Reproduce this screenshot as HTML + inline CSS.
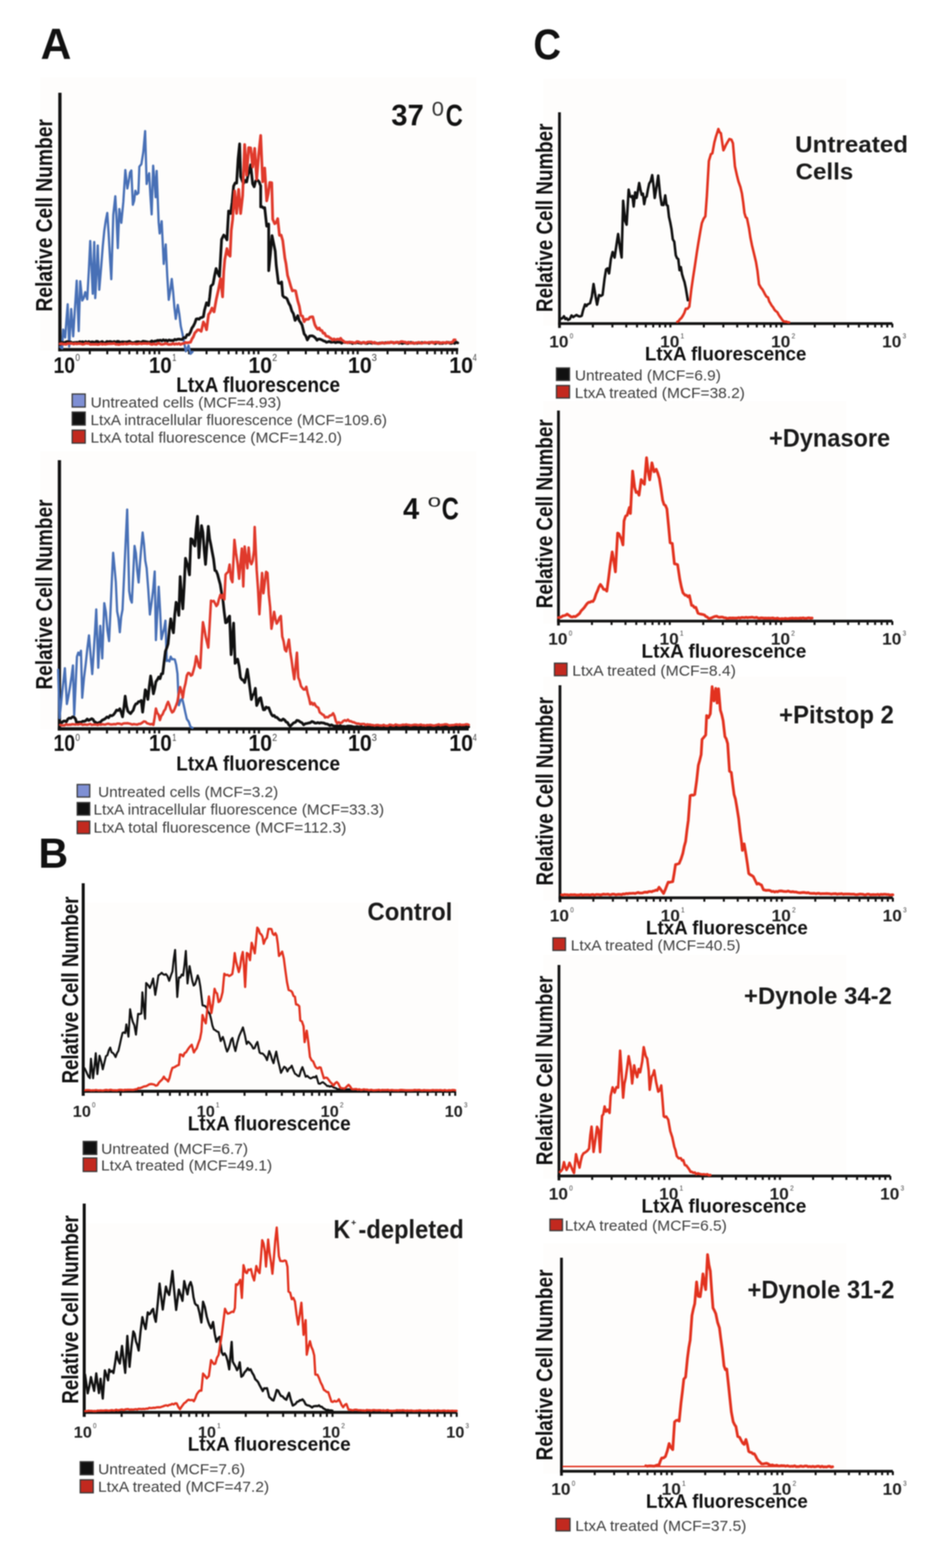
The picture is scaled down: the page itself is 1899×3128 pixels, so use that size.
<!DOCTYPE html>
<html><head><meta charset="utf-8"><title>Figure</title>
<style>html,body{margin:0;padding:0;background:#fff;} svg{display:block;} #wrap{filter:blur(0.8px);} text{font-family:"Liberation Sans", Arial, sans-serif;}</style>
</head><body>
<div id="wrap">
<svg width="1899" height="3128" viewBox="0 0 1899 3128">
<rect width="1899" height="3128" fill="#ffffff"/>
<g>
<rect x="80" y="154" width="870" height="546" fill="#fefdfc"/>
<rect x="80" y="900" width="870" height="555" fill="#fefdfc"/>
<rect x="168" y="1801" width="746" height="382" fill="#fefdfc"/>
<rect x="168" y="2440" width="746" height="385" fill="#fefdfc"/>
<rect x="1084" y="157" width="604" height="493" fill="#fefdfc"/>
<rect x="1084" y="800" width="604" height="444" fill="#fefdfc"/>
<rect x="1084" y="1350" width="604" height="446" fill="#fefdfc"/>
<rect x="1084" y="1905" width="604" height="446" fill="#fefdfc"/>
<rect x="1084" y="2480" width="604" height="460" fill="#fefdfc"/>
<text x="80.9" y="117" font-size="87.1" font-weight="bold" fill="#111" textLength="61.4" lengthAdjust="spacingAndGlyphs">A</text>
<text x="76.7" y="1731" font-size="82.9" font-weight="bold" fill="#111" textLength="59.2" lengthAdjust="spacingAndGlyphs">B</text>
<text x="1063.9" y="118" font-size="85.7" font-weight="bold" fill="#111" textLength="55.1" lengthAdjust="spacingAndGlyphs">C</text>
<line x1="119.5" y1="185" x2="119.5" y2="700.75" stroke="#111" stroke-width="6.5"/>
<line x1="116.25" y1="697.5" x2="914" y2="697.5" stroke="#111" stroke-width="6.5"/>
<path d="M179.1 697.5 V706.8 M214 697.5 V706.8 M238.7 697.5 V706.8 M257.9 697.5 V706.8 M273.6 697.5 V706.8 M286.8 697.5 V706.8 M298.3 697.5 V706.8 M308.4 697.5 V706.8 M377.1 697.5 V706.8 M412 697.5 V706.8 M436.7 697.5 V706.8 M455.9 697.5 V706.8 M471.6 697.5 V706.8 M484.8 697.5 V706.8 M496.3 697.5 V706.8 M506.4 697.5 V706.8 M317.5 697.5 V706.8 M575.1 697.5 V706.8 M610 697.5 V706.8 M634.7 697.5 V706.8 M653.9 697.5 V706.8 M669.6 697.5 V706.8 M682.8 697.5 V706.8 M694.3 697.5 V706.8 M704.4 697.5 V706.8 M515.5 697.5 V706.8 M773.1 697.5 V706.8 M808 697.5 V706.8 M832.7 697.5 V706.8 M851.9 697.5 V706.8 M867.6 697.5 V706.8 M880.8 697.5 V706.8 M892.3 697.5 V706.8 M902.4 697.5 V706.8 M713.5 697.5 V706.8 M911.5 697.5 V706.8" stroke="#111" stroke-width="4" fill="none"/>
<path d="M120 692 L124 694.9 L126 657.4 L130 673.3 L132.5 638.7 L135 607.1 L138 691.3 L142 616.4 L146 671.1 L149.5 615.1 L153 560 L157 660.6 L160 561 L164 599.4 L167 594.8 L170 582.8 L174 597 L177 543.2 L180 480.8 L182.5 531.7 L185 586.1 L188 482.8 L190 594.7 L192.5 547.3 L195 489.7 L198 578.1 L202 530.2 L205 491.4 L208 460.5 L211 439.7 L214 424.7 L216.7 465.9 L219.3 512.9 L222 557 L226 428.2 L230 391.4 L232.5 437.6 L235 495 L238 416.9 L242 444.5 L246 402.9 L250 339.2 L254 376.1 L256.7 362.2 L259.3 344.2 L262 340.1 L265 408.6 L267.5 400.9 L270 380.4 L273 387.6 L276 385 L278 332.4 L282 327.5 L285.8 303.6 L289.5 261.5 L292.5 367.1 L295 354.5 L297.5 345.6 L300 389.8 L302.5 427.8 L305.5 330.5 L308 358.9 L310.5 393.6 L312.5 341.1 L316.5 443.9 L318.5 465.8 L322.5 441.2 L326.6 526.6 L330.6 487.4 L333.6 550 L336.6 598.2 L339.6 579.6 L342.6 556.5 L345.3 581.4 L347.9 613.6 L350.6 636.3 L354.6 608.2 L357.6 626 L360.6 650.5 L363.6 664.3 L366.7 679.9 L370.7 700.9 L373.4 695.8 L376 689.3 L380 705.8 L384 702" fill="none" stroke="#4870b6" stroke-width="4.5" stroke-linejoin="round" stroke-linecap="round"/>
<path d="M120 683 L123 682.9 L126 683.5 L129 683.5 L132 681.8 L135 681.4 L138 682.5 L141 682.2 L144 683.9 L147 683.5 L150 683.2 L153 683 L156 683.3 L159 681.6 L162 682.6 L165 681.7 L168 684 L171 681.3 L174 683.7 L177 681.3 L180 683.3 L183 682.1 L186 682.3 L189 683.7 L192 681 L195 681.2 L198 683.9 L201 682.6 L204 681.2 L207 684.1 L210 683.9 L213 681.2 L216 682.2 L219 681.3 L222 681.8 L225 682.8 L228 681.3 L231 683 L234 680.9 L237 681.3 L240 683.4 L243 682 L246 682 L249 682.6 L252 682.2 L255 681.9 L258 680.7 L261 683 L264 683.7 L267 683.7 L270 682.7 L273 681.7 L276 681.7 L279 682.7 L282 682.7 L285 680.8 L288 681.2 L291 681.6 L294 682.1 L297 683 L300 682 L302.9 680 L305.7 682.3 L308.6 680.5 L311.4 680.4 L314.3 678.9 L317.1 679.2 L320 678.6 L322.9 680.1 L325.7 677.8 L328.6 679.6 L331.4 678.4 L334.3 680.4 L337.1 678.2 L340 679.2 L342.9 679 L345.7 679.6 L348.6 677 L351.4 678.1 L354.3 676.7 L357.1 676.6 L360 676.9 L363.3 677.2 L366.7 673.6 L370 674 L373.3 667.5 L376.7 668.1 L380 662.3 L382.9 654.3 L385.7 650.5 L388.6 644.6 L391.4 636.5 L394.2 635.8 L397 636.8 L399.9 633.9 L402.8 633.3 L405.7 631.7 L407.8 619.3 L412 604 L416 609.4 L418.3 592.5 L420.6 571 L425 566.6 L428 550.1 L431 535.7 L434.4 544.7 L437.8 551.4 L442 477.8 L446.3 468.9 L449.5 472.5 L452.7 478.5 L456 420.9 L460 425.8 L463 403.3 L466 371.3 L469 365.1 L472 365.3 L475 316.7 L478 287 L480 352.2 L484 362.8 L486.7 364.9 L489.3 359.9 L492 363 L494.7 349.1 L497.3 342 L500 328.9 L504 366.8 L507 372.5 L510 360.9 L513.3 359 L516.7 362.4 L520 370.8 L520 412.8 L522.7 412.3 L525.3 414.9 L528 414.2 L532 451.2 L536 447 L536 539.9 L539.3 507.2 L542.6 469.9 L545.8 485.5 L549 501.1 L551 529.2 L555.4 564.9 L558.6 565.4 L561.8 562.5 L564 589.8 L566.8 593 L569.7 593.6 L572.5 596 L575.8 604.5 L579 610 L582.1 620.4 L585.3 625.9 L588.6 639.2 L591.3 635.4 L594 629.7 L596.8 639.5 L599.7 643.5 L602.5 648.3 L606.7 666 L609.9 670 L613 678.1 L617.4 670.5 L620.3 669.9 L623.1 669.9 L626 671.4 L629.2 674.2 L632.4 678.7 L635 676.6 L637.7 676.4 L640.4 677.3 L643 678.7 L645.7 680.1 L648.4 680.8 L651.1 682.9 L653.8 682.1 L656.9 681.1 L660 682.7 L663 682.6 L666.1 681.9 L669.2 683.5 L672.3 682.6 L675.4 682.4 L678.4 682.8 L681.5 684.8 L684.6 682 L687.7 683.2 L690.8 683 L693.8 682.9 L696.9 683.7 L700 683.2 L703 685.3 L706 684 L709 684.6 L712 683 L715 683.9 L718 684.3 L721 685 L724 683.2 L727 683.9 L730 685.1 L733 685 L736 683.2 L739 684.1 L742 684.8 L745 683.7 L748 684.5 L751 684.5 L754 685.4 L757 684.2 L760 684.5 L763 683.6 L766 684.7 L769 683.5 L772 684 L775 683.6 L778 683.4 L781 682.9 L784 683.2 L787 684.1 L790 683.3 L793 682.6 L796 684.9 L799 683.4 L802 685.3 L805 684.3 L808 683.7 L811 685.1 L814 685.2 L817 683.5 L820 682.9 L823 684.4 L826 685 L829 684.3 L832 684.9 L835 683.7 L838 684.4 L841 683.3 L844 683.7 L847 683.6 L850 683.7 L853 683.7 L856 684.9 L859 683 L862 683.1 L865 683.3 L868 685.4 L871 684.1 L874 682.7 L877 685 L880 685.1 L883 685 L886 683.6 L889 684.7 L892 683.4 L895 682.9 L898 685.1 L901 685 L904 683.1 L907 685.1 L910 682.6 L913 684" fill="none" stroke="#111111" stroke-width="5.5" stroke-linejoin="round" stroke-linecap="round"/>
<path d="M120 686 L123 685.4 L126 686.5 L129 686.5 L132 686.9 L135 685.2 L138 685.3 L141 685.1 L144 685.3 L147 686.6 L150 685 L153 686.1 L156 685.3 L159 685.5 L162 685.8 L165 686.9 L168 686.3 L171 684.7 L174 685.4 L177 685.1 L180 687 L183 686.8 L186 686.8 L189 686.8 L192 686.6 L195 687.2 L198 686.8 L201 685.4 L204 686.9 L207 686 L210 686.7 L213 686.2 L216 685.8 L219 685.6 L222 685.8 L225 685.5 L228 685 L231 686.8 L234 686.8 L237 687.3 L240 686.5 L243 686.1 L246 686.6 L249 685.1 L252 686.5 L255 685.9 L258 685.2 L261 685.2 L264 686.1 L267 685.4 L270 685.9 L273 686.3 L276 685.7 L279 685 L282 686 L285 685.3 L288 685.3 L291 685.2 L294 685.7 L297 684.9 L300 686.4 L303 687.2 L306 685.7 L309 686.6 L312 687.1 L315 684.8 L318 685.1 L321 686.8 L324 686.9 L327 686.4 L330 685.1 L333 685.8 L336 687 L339 687 L342 686.8 L345 685.2 L348 686.9 L351 685.7 L354 686.6 L357 685.1 L360 687.2 L363.3 685.6 L366.7 685.3 L370 683.1 L373.3 683.9 L376.7 683.3 L380 682.8 L382.9 676.1 L385.7 671.9 L388.6 664.2 L391.4 661.3 L394.2 657.9 L397 658 L401.4 661 L405.7 642.3 L408.9 648 L412 657.8 L416 627.4 L419.4 622.8 L422.8 614.6 L427 622.2 L431.3 597.7 L435.6 578.4 L440 555.8 L444 592.3 L446.3 541.8 L448.4 517.9 L452.7 495.9 L455.9 508.1 L459 511 L461.3 459.6 L464 438.3 L468 380.7 L472 425.7 L476 377.7 L480 426 L484 390.5 L488 288.3 L492 349.6 L496 294.6 L500 294.9 L504 333.1 L508 296 L512 357.9 L516 307.7 L520 270.2 L524 362.6 L528 335.2 L532 400.8 L535 386.2 L538 364 L542 364.4 L544 437.3 L548 446.3 L551 444.1 L554 436.2 L557.5 469.5 L560.8 469 L564 480 L568.2 514.6 L570.4 525.5 L573.6 549.4 L576.8 559.8 L580 571.1 L583.2 580.3 L586.4 579.4 L589.6 580.1 L594 600.5 L597.1 611.1 L600.3 629.4 L603.5 630.6 L606.7 641.8 L609.6 637.1 L612.4 636.9 L615.3 636.8 L618.2 632.9 L621 632 L623.9 632.1 L628 647.6 L630.9 653.1 L633.8 656.7 L636.7 654.3 L639.4 659.1 L642 659.2 L644.7 664.8 L647.4 664.5 L650 669.9 L652.7 670.9 L655.4 671.7 L658 674 L660.7 675.5 L663.4 678.4 L666.1 676.1 L668.8 677.9 L671.5 677 L674.1 676.4 L676.8 677.7 L679.5 674.8 L682.1 678.5 L684.8 679.9 L687.4 682.4 L690 682.6 L693.3 683.9 L696.7 682.3 L700 682.7 L702.9 683 L705.9 683.8 L708.8 684 L711.8 681.6 L714.7 681.8 L717.6 683.1 L720.6 684.1 L723.5 683.3 L726.5 682.7 L729.4 684.8 L732.4 682.8 L735.3 682.3 L738.2 682.3 L741.2 682.3 L744.1 684.5 L747.1 682.7 L750 684.6 L752.9 685 L755.9 685.4 L758.8 684.8 L761.8 683.5 L764.7 684.1 L767.6 684.7 L770.6 684.3 L773.5 682.9 L776.5 684.3 L779.4 682.2 L782.4 682.8 L785.3 684.8 L788.2 683.1 L791.2 682.4 L794.1 684 L797.1 682.9 L800 681.4 L802.9 681.6 L805.9 682.4 L808.8 682.6 L811.8 684.6 L814.7 682.5 L817.6 684.4 L820.6 684.5 L823.5 683.2 L826.5 685 L829.4 684.4 L832.4 683.6 L835.3 683 L838.2 683.6 L841.2 685 L844.1 684 L847.1 683 L850 683.6 L852.9 683.9 L855.9 682.9 L858.8 684 L861.8 682.3 L864.7 684.7 L867.6 682.7 L870.6 682.4 L873.5 683.8 L876.5 682.9 L879.4 684.6 L882.4 683.3 L885.3 683.4 L888.2 684.3 L891.2 682.3 L894.1 683.9 L897.1 683.5 L900 682.8 L902.7 682.9 L905.3 677.9 L908 678" fill="none" stroke="#e03a2c" stroke-width="5.5" stroke-linejoin="round" stroke-linecap="round"/>
<text x="780.5" y="250" font-size="58.6" font-weight="bold" fill="#111" textLength="64.9" lengthAdjust="spacingAndGlyphs">37</text>
<text x="861.2" y="231" font-size="41.4" font-weight="normal" fill="#333" textLength="24.3" lengthAdjust="spacingAndGlyphs">0</text>
<text x="889.1" y="251" font-size="61.4" font-weight="bold" fill="#111" textLength="34.2" lengthAdjust="spacingAndGlyphs">C</text>
<text transform="translate(104 619) rotate(-90)" x="-2.5" y="0" font-size="47.1" font-weight="bold" fill="#111" textLength="384" lengthAdjust="spacingAndGlyphs">Relative Cell Number</text>
<text x="106.7" y="744" font-size="44.3" font-weight="bold" fill="#111" textLength="43" lengthAdjust="spacingAndGlyphs">10</text>
<text x="150.3" y="720" font-size="20" font-weight="normal" fill="#444" textLength="9.3" lengthAdjust="spacingAndGlyphs">0</text>
<text x="297" y="744" font-size="44.3" font-weight="bold" fill="#111" textLength="45.7" lengthAdjust="spacingAndGlyphs">10</text>
<text x="343.4" y="720" font-size="20" font-weight="normal" fill="#444" textLength="8.3" lengthAdjust="spacingAndGlyphs">1</text>
<text x="495.4" y="744" font-size="44.3" font-weight="bold" fill="#111" textLength="47.4" lengthAdjust="spacingAndGlyphs">10</text>
<text x="543.1" y="720" font-size="20" font-weight="normal" fill="#444" textLength="9.8" lengthAdjust="spacingAndGlyphs">2</text>
<text x="693.9" y="744" font-size="44.3" font-weight="bold" fill="#111" textLength="47.9" lengthAdjust="spacingAndGlyphs">10</text>
<text x="741.2" y="720" font-size="20" font-weight="normal" fill="#444" textLength="10.5" lengthAdjust="spacingAndGlyphs">3</text>
<text x="895.9" y="744" font-size="44.3" font-weight="bold" fill="#111" textLength="47.9" lengthAdjust="spacingAndGlyphs">10</text>
<text x="942.7" y="720" font-size="20" font-weight="normal" fill="#444" textLength="8.3" lengthAdjust="spacingAndGlyphs">4</text>
<text x="351.5" y="782" font-size="42.9" font-weight="bold" fill="#111" textLength="326.9" lengthAdjust="spacingAndGlyphs">LtxA fluorescence</text>
<rect x="144" y="786" width="26" height="26" fill="#7e8fd4" stroke="#3a3a3a" stroke-width="2.5"/>
<rect x="144" y="822" width="26" height="26" fill="#111111" stroke="#3a3a3a" stroke-width="2.5"/>
<rect x="144" y="858" width="26" height="26" fill="#c2291f" stroke="#3a3a3a" stroke-width="2.5"/>
<text x="180.7" y="813" font-size="30" font-weight="normal" fill="#3e3e3e" textLength="380.3" lengthAdjust="spacingAndGlyphs">Untreated cells (MCF=4.93)</text>
<text x="180.6" y="848" font-size="30" font-weight="normal" fill="#3e3e3e" textLength="591.3" lengthAdjust="spacingAndGlyphs">LtxA intracellular fluorescence (MCF=109.6)</text>
<text x="180.5" y="883" font-size="30" font-weight="normal" fill="#3e3e3e" textLength="501.4" lengthAdjust="spacingAndGlyphs">LtxA total fluorescence (MCF=142.0)</text>
<line x1="118.5" y1="918" x2="118.5" y2="1457.25" stroke="#111" stroke-width="6.5"/>
<line x1="115.25" y1="1454" x2="935" y2="1454" stroke="#111" stroke-width="6.5"/>
<path d="M178.4 1454 V1463.2 M213.4 1454 V1463.2 M238.3 1454 V1463.2 M257.6 1454 V1463.2 M273.4 1454 V1463.2 M286.7 1454 V1463.2 M298.2 1454 V1463.2 M308.4 1454 V1463.2 M377.4 1454 V1463.2 M412.4 1454 V1463.2 M437.3 1454 V1463.2 M456.6 1454 V1463.2 M472.4 1454 V1463.2 M485.7 1454 V1463.2 M497.2 1454 V1463.2 M507.4 1454 V1463.2 M317.5 1454 V1463.2 M576.4 1454 V1463.2 M611.4 1454 V1463.2 M636.3 1454 V1463.2 M655.6 1454 V1463.2 M671.4 1454 V1463.2 M684.7 1454 V1463.2 M696.2 1454 V1463.2 M706.4 1454 V1463.2 M516.5 1454 V1463.2 M775.4 1454 V1463.2 M810.4 1454 V1463.2 M835.3 1454 V1463.2 M854.6 1454 V1463.2 M870.4 1454 V1463.2 M883.7 1454 V1463.2 M895.2 1454 V1463.2 M905.4 1454 V1463.2 M715.5 1454 V1463.2 M914.5 1454 V1463.2" stroke="#111" stroke-width="4" fill="none"/>
<path d="M116 1336 L118.7 1432.8 L121.3 1408.5 L124 1381.1 L126.7 1357.6 L129.4 1332.9 L133.4 1404.6 L136.7 1387.5 L140 1367.8 L142.8 1348.9 L145.5 1327.4 L148 1426.3 L150.8 1367.9 L153.5 1309.9 L156.2 1301.8 L158.8 1306.8 L161.5 1298.1 L164 1392 L167.5 1352.7 L171 1324.6 L174.2 1293.9 L177.5 1267.4 L180.8 1307.2 L184 1344.7 L186.7 1304.4 L189.3 1263.4 L192 1215.7 L196 1332.1 L200 1248.4 L204 1313.5 L208 1203.2 L211.2 1221.1 L214.4 1257.8 L217.6 1279 L220.3 1221.3 L223 1159.6 L225.7 1102.8 L228.3 1130.5 L231 1160.6 L233.7 1219.7 L236.3 1233.2 L239 1261.3 L241.7 1230.4 L244.4 1216.1 L247.5 1149.6 L250.6 1082 L253.7 1016.4 L257.7 1179.1 L260.4 1195.6 L263 1202.1 L265.7 1145.2 L268.4 1089.1 L271.1 1103.7 L273.8 1138.5 L276.5 1162 L279.2 1124 L281.8 1092.1 L284.5 1062.2 L287.2 1085.2 L289.8 1118.4 L292.5 1133.4 L295.8 1176.6 L299 1225.9 L302.2 1203.5 L305.4 1177.1 L308.6 1139.9 L311 1276.9 L313.8 1222.6 L316.6 1170.4 L319.3 1217 L322 1275.2 L324.7 1264 L327.3 1254.1 L330 1238.1 L332.6 1318.7 L335.3 1317 L337.9 1319.4 L340.6 1309.9 L343.3 1315.2 L346 1314.9 L348.7 1315.6 L351.4 1326 L354 1344 L356.7 1406.9 L360 1397.6 L363.4 1393.4 L366.5 1406.5 L369.6 1421.1 L372.7 1434.4 L376.4 1439.6 L380 1449.8 L384 1452" fill="none" stroke="#4870b6" stroke-width="4.5" stroke-linejoin="round" stroke-linecap="round"/>
<path d="M120 1440 L123.1 1441.6 L126.3 1438.7 L129.4 1438.3 L132.3 1439.9 L135.1 1434.7 L138 1432.4 L141.3 1433 L144.7 1430 L148 1430.8 L150.8 1434.7 L153.5 1444.1 L156.4 1440.8 L159.2 1440.7 L162.1 1440.7 L165 1438.7 L168 1439.1 L171 1437.7 L174 1434.4 L177 1437.2 L180 1435.5 L183 1433.7 L185.7 1435.3 L188.3 1439.9 L190.9 1440.9 L193.6 1444 L196.9 1441.5 L200.3 1440.3 L203.7 1436.8 L207 1435.3 L210.2 1433.4 L213.4 1430.2 L216.6 1431.8 L219.8 1427.2 L223 1427.9 L226.2 1426.1 L229.4 1421.9 L232.6 1416.5 L235.8 1417.5 L239 1414 L241.7 1420.9 L244.4 1430 L247.1 1412.2 L249.7 1388.8 L252.3 1407.9 L255 1418.5 L257.7 1421.3 L260.4 1423.5 L263 1420.1 L265.7 1416.9 L268.4 1408.6 L271 1404.2 L273.7 1403.5 L276.4 1399.7 L279.1 1399.6 L281.8 1397.3 L284.5 1420.7 L287.1 1399.5 L289.8 1375.9 L292.4 1380.8 L295 1395.2 L297.8 1369.3 L300.5 1348.4 L303.2 1364.2 L306 1384.1 L308.5 1373.9 L311 1359.8 L313.8 1356 L316.6 1350.6 L319.3 1353.9 L321.9 1344.2 L324.6 1344 L327.3 1320.9 L330 1299.3 L332.6 1292.8 L335.3 1284.3 L338 1255.6 L340.6 1234.4 L343.3 1250.8 L346 1262.3 L348.6 1226.3 L351.3 1201.4 L354 1208.3 L356.7 1227.6 L359.4 1150.3 L362 1185.9 L364.7 1214.5 L367.4 1169 L370 1113.7 L372.7 1122.8 L375.3 1132.4 L378 1146.8 L380.7 1074.7 L383.4 1075.9 L386.1 1085.1 L388.8 1089.1 L391.4 1054 L394 1030 L396.8 1112.6 L399.4 1076.4 L402 1048.5 L404.7 1061.7 L407.3 1096.5 L410 1125.9 L412.8 1087.1 L415.5 1049.9 L418.1 1074.6 L420.8 1087.4 L423.4 1101.7 L426 1115.2 L428.7 1138 L431.3 1139.2 L434 1145.8 L436.7 1156.2 L439.3 1165.7 L442 1182.8 L444.7 1197 L447.3 1221.3 L450 1242.4 L452.7 1241.3 L455.3 1232.9 L458 1229.1 L461 1305.9 L463.5 1275.9 L466 1242.9 L469 1323.3 L471.5 1318.4 L474 1314.9 L476.9 1328.5 L479.7 1351.5 L482.5 1355.8 L485.2 1356.8 L488 1361.7 L490.7 1349.5 L493.4 1335.3 L496.1 1354 L498.7 1374.5 L501.4 1395.5 L504.1 1386.9 L506.7 1384 L509.4 1373.1 L512 1407.4 L514.7 1401.5 L517.3 1393.3 L520 1391.8 L522.8 1405.8 L525.5 1416 L528.2 1415.8 L530.8 1410.5 L533.5 1412.1 L536.1 1411.7 L538.8 1419.2 L541.4 1425 L544 1428.2 L546.8 1427.2 L549.5 1430.7 L552.2 1430.9 L555 1433.8 L558.2 1436.6 L561.5 1437 L564.8 1434.4 L568 1436.5 L570.8 1440.3 L573.5 1441.4 L576.2 1446.1 L579 1448.6 L582.3 1445.4 L585.6 1442.1 L589 1441 L592.3 1437.1 L595.6 1437.8 L599 1440.2 L602.4 1441.9 L605.7 1446 L609 1443.8 L612.4 1443.1 L615.7 1442.3 L619 1441.7 L622.1 1439.3 L625.1 1440.4 L628.2 1442.4 L631.2 1442.4 L634.3 1441.5 L637.3 1442.7 L640.4 1441.6 L643.4 1442.1 L646.3 1442.4 L649.3 1444 L652.2 1444.3 L655.2 1445.6 L658.1 1447.4 L661.1 1446 L664 1447.5 L667 1448.6 L670 1448.3 L673 1448.3 L675.9 1448.8 L678.9 1447.7 L681.9 1449.3 L684.9 1449 L687.8 1449.3 L690.8 1449.4 L693.8 1448.4 L696.8 1448.4 L699.8 1448.7 L702.7 1449.3 L705.7 1450.1 L708.7 1450.2 L711.7 1449.5 L714.6 1450 L717.6 1450.3 L720.6 1449.7 L723.6 1450.8 L726.6 1450.7 L729.7 1450.4 L732.7 1450.6 L735.7 1450.5 L738.7 1450.2 L741.7 1449.7 L744.8 1449.7 L747.8 1449.6 L750.8 1449.3 L753.8 1450.7 L756.8 1449.7 L759.9 1449.2 L762.9 1449.7 L765.9 1449.4 L768.9 1449.9 L771.9 1449.7 L775 1449.5 L778 1450 L781 1449.9 L784 1449.8 L787 1450.5 L790.1 1449.7 L793.1 1450.1 L796.1 1450.6 L799.1 1450.7 L802.1 1449.8 L805.2 1449.3 L808.2 1450.7 L811.2 1450 L814.2 1449.5 L817.2 1449.4 L820.3 1449.6 L823.3 1449.7 L826.3 1449.4 L829.3 1449.3 L832.3 1450.8 L835.3 1450.5 L838.4 1449.4 L841.4 1450 L844.4 1450.5 L847.4 1450 L850.4 1449.3 L853.5 1449.7 L856.5 1449.8 L859.5 1450.7 L862.5 1450.1 L865.5 1449.9 L868.6 1450.2 L871.6 1449.3 L874.6 1450.3 L877.6 1450.5 L880.6 1450.3 L883.7 1449.8 L886.7 1449.7 L889.7 1449.2 L892.7 1449.3 L895.7 1449.4 L898.8 1449.9 L901.8 1450.4 L904.8 1449.5 L907.8 1450 L910.8 1450.2 L913.9 1450.2 L916.9 1449.2 L919.9 1450.7 L922.9 1450.1 L925.9 1449.7 L929 1449.6 L932 1450.3 L935 1450" fill="none" stroke="#111111" stroke-width="5.5" stroke-linejoin="round" stroke-linecap="round"/>
<path d="M120 1446 L123 1447.1 L126 1447.1 L129 1446.9 L132 1444.8 L135 1446.1 L138 1445.6 L141 1445.8 L144 1444.7 L147 1444.9 L150 1445.5 L153 1444.9 L156 1445.5 L159 1444.3 L162 1444.4 L165 1446.1 L168 1445.2 L171 1445.4 L174 1446 L177 1445 L180 1444.1 L183 1446.1 L186 1445.5 L189 1445.6 L192 1445.5 L195 1446.4 L198 1444.7 L201 1445.8 L204 1444.7 L207 1445.2 L210 1445.4 L212.9 1444.4 L215.9 1443.7 L218.9 1444.7 L221.8 1445.3 L224.8 1444.9 L227.8 1444.5 L230.7 1445 L233.7 1443.6 L236.7 1443.5 L239.6 1443.9 L242.6 1445.3 L245.6 1443.4 L248.5 1443.1 L251.5 1443 L254.5 1442.7 L257.4 1443.4 L260.4 1444.2 L263.8 1445.4 L267.1 1444.5 L270.4 1445.1 L273.8 1445.5 L277.1 1443.9 L280.4 1443.9 L283.7 1441.7 L287 1439.1 L290.2 1439.6 L293.3 1442.9 L296.5 1443.7 L299.7 1445 L302.8 1444.3 L306 1446.1 L308.5 1431.4 L311 1413.5 L313.7 1422.5 L316.3 1425.7 L319 1436.5 L321.7 1428 L324.3 1425.1 L327 1418.5 L329.8 1414.8 L332.5 1406.2 L335.3 1400.1 L338 1406.9 L340.6 1415.6 L343.3 1421.2 L346 1419.4 L348.6 1413.8 L351.3 1407.1 L354 1399.5 L356.7 1383.8 L359.4 1370.7 L362 1379.4 L364.7 1391.8 L367.4 1373.6 L370 1363.3 L372.7 1347.5 L375.4 1342.5 L378 1342.9 L380.7 1347.9 L383.4 1346.2 L386.1 1336.9 L388.7 1326.9 L391.4 1309.1 L394.1 1317.9 L396.8 1329.6 L399.5 1332.5 L402.1 1283.2 L404.8 1241.3 L407.5 1254.3 L410.1 1269.1 L412.8 1280.8 L415.5 1291.9 L418.2 1245.6 L420.9 1198.2 L423.6 1199.8 L426.2 1198.7 L428.9 1203.4 L431.6 1208.9 L434.3 1205.4 L436.9 1194.7 L439.6 1186.6 L442.3 1192.9 L444.9 1186.3 L447.6 1195.7 L450 1146.1 L452.7 1143 L455.3 1140.6 L458 1126.2 L460.8 1154.5 L463.6 1161.4 L467.6 1076.9 L470.7 1102.5 L473.9 1124.1 L477 1154.6 L479.7 1124 L482.4 1094.3 L485.3 1169.9 L488 1090.3 L490.7 1111.9 L493.4 1133.7 L496 1092.3 L498.7 1118.9 L501.4 1125.5 L504 1118.9 L506.7 1098.2 L508 1051.2 L512 1136.7 L514.7 1174.9 L517.4 1225.4 L520.1 1181.4 L522.8 1143 L525.5 1183.5 L528.1 1162.5 L530.8 1140.8 L533.5 1143 L536.2 1185.7 L538.8 1210.2 L541.5 1254.3 L544.1 1239.6 L546.8 1220.6 L549.4 1234.6 L552 1244 L554.7 1239.6 L557.5 1232.2 L560.2 1228.9 L563 1269.8 L565.7 1279.2 L568.3 1295.9 L571 1299.4 L573.6 1287.7 L576.3 1275.9 L579 1300.1 L581.6 1316.7 L584.3 1337.4 L587 1355 L589.6 1329.5 L592.3 1301.9 L595 1351.6 L597.7 1358.2 L600.4 1369 L603 1372.3 L605.7 1375.5 L608.4 1375.4 L611 1370.1 L613.7 1383.3 L616.3 1392.3 L619 1404.8 L621.7 1401.6 L624.4 1405.9 L627 1402.8 L629.7 1408 L632.4 1410.5 L635 1411.9 L637.7 1420.9 L640.4 1422.9 L643 1425.3 L645.7 1426.3 L648.4 1431.5 L651 1430.2 L654.4 1431.1 L657.8 1427.5 L661.1 1426.9 L664.5 1423 L667.2 1428.3 L669.8 1438.1 L672.5 1443.1 L675.6 1440.7 L678.6 1442.6 L681.7 1441.7 L684.8 1438.2 L687.9 1436.8 L690.9 1438.2 L694 1435.6 L697 1438.8 L699.9 1438.7 L702.9 1440.4 L705.8 1440.8 L708.8 1442.4 L711.7 1443.4 L714.7 1443.5 L717.6 1444.4 L720.6 1444.5 L723.6 1444.2 L726.6 1444.2 L729.5 1446.5 L732.5 1444.9 L735.5 1445.7 L738.5 1445.6 L741.4 1446.5 L744.4 1446.5 L747.4 1447.5 L750.4 1446.4 L753.4 1446.2 L756.3 1446.9 L759.3 1447.2 L762.3 1447.6 L765.3 1446.1 L768.2 1447.5 L771.2 1447.7 L774.2 1447.7 L777.2 1445.6 L780.2 1446.2 L783.1 1447.2 L786.1 1447.3 L789.1 1445.3 L792.1 1446.2 L795 1447 L798 1447.1 L801 1446.5 L804 1445.7 L807 1446.2 L809.9 1445.3 L812.9 1445.9 L815.9 1446.2 L818.9 1447.2 L821.8 1446.6 L824.8 1446.1 L827.8 1445.7 L830.8 1445.9 L833.8 1446.8 L836.7 1446.2 L839.7 1445.5 L842.7 1447.1 L845.7 1446.5 L848.6 1447.5 L851.6 1446.4 L854.6 1446.6 L857.6 1446.1 L860.6 1446.5 L863.5 1447.3 L866.5 1447.4 L869.5 1446.6 L872.5 1446 L875.4 1445.1 L878.4 1447 L881.4 1445.9 L884.4 1445.9 L887.4 1445 L890.3 1445 L893.3 1445.9 L896.3 1447.3 L899.3 1446.7 L902.2 1446.6 L905.2 1446.5 L908.2 1445.5 L911.2 1445.2 L914.2 1446.3 L917.1 1444.9 L920.1 1446.3 L923.1 1446.1 L926.1 1446.1 L929 1445 L932 1444.9 L935 1446" fill="none" stroke="#e03a2c" stroke-width="5" stroke-linejoin="round" stroke-linecap="round"/>
<text x="804.1" y="1035" font-size="60" font-weight="bold" fill="#111" textLength="32.2" lengthAdjust="spacingAndGlyphs">4</text>
<text x="853.1" y="1011" font-size="35.7" font-weight="normal" fill="#222" textLength="26.9" lengthAdjust="spacingAndGlyphs">o</text>
<text x="881.1" y="1036" font-size="62.9" font-weight="bold" fill="#111" textLength="34.2" lengthAdjust="spacingAndGlyphs">C</text>
<text transform="translate(104 1373) rotate(-90)" x="-2.5" y="0" font-size="47.1" font-weight="bold" fill="#111" textLength="379" lengthAdjust="spacingAndGlyphs">Relative Cell Number</text>
<text x="106.7" y="1498" font-size="45.7" font-weight="bold" fill="#111" textLength="43" lengthAdjust="spacingAndGlyphs">10</text>
<text x="150.3" y="1478" font-size="20" font-weight="normal" fill="#444" textLength="9.3" lengthAdjust="spacingAndGlyphs">0</text>
<text x="297" y="1498" font-size="45.7" font-weight="bold" fill="#111" textLength="45.7" lengthAdjust="spacingAndGlyphs">10</text>
<text x="343.4" y="1478" font-size="20" font-weight="normal" fill="#444" textLength="8.3" lengthAdjust="spacingAndGlyphs">1</text>
<text x="495.4" y="1498" font-size="45.7" font-weight="bold" fill="#111" textLength="47.4" lengthAdjust="spacingAndGlyphs">10</text>
<text x="543.1" y="1478" font-size="20" font-weight="normal" fill="#444" textLength="9.8" lengthAdjust="spacingAndGlyphs">2</text>
<text x="693.9" y="1498" font-size="45.7" font-weight="bold" fill="#111" textLength="47.9" lengthAdjust="spacingAndGlyphs">10</text>
<text x="741.2" y="1478" font-size="20" font-weight="normal" fill="#444" textLength="10.5" lengthAdjust="spacingAndGlyphs">3</text>
<text x="895.9" y="1498" font-size="45.7" font-weight="bold" fill="#111" textLength="47.9" lengthAdjust="spacingAndGlyphs">10</text>
<text x="942.7" y="1478" font-size="20" font-weight="normal" fill="#444" textLength="8.3" lengthAdjust="spacingAndGlyphs">4</text>
<text x="351.5" y="1537" font-size="41.4" font-weight="bold" fill="#111" textLength="326.9" lengthAdjust="spacingAndGlyphs">LtxA fluorescence</text>
<rect x="154" y="1565" width="25" height="25" fill="#7e8fd4" stroke="#3a3a3a" stroke-width="2.5"/>
<rect x="154" y="1601" width="25" height="25" fill="#111111" stroke="#3a3a3a" stroke-width="2.5"/>
<rect x="154" y="1638" width="25" height="25" fill="#c2291f" stroke="#3a3a3a" stroke-width="2.5"/>
<text x="195.7" y="1590" font-size="30" font-weight="normal" fill="#3e3e3e" textLength="359.3" lengthAdjust="spacingAndGlyphs">Untreated cells (MCF=3.2)</text>
<text x="186.6" y="1625" font-size="30" font-weight="normal" fill="#3e3e3e" textLength="579.5" lengthAdjust="spacingAndGlyphs">LtxA intracellular fluorescence (MCF=33.3)</text>
<text x="186.5" y="1661" font-size="30" font-weight="normal" fill="#3e3e3e" textLength="504.5" lengthAdjust="spacingAndGlyphs">LtxA total fluorescence (MCF=112.3)</text>
<line x1="166" y1="1762" x2="166" y2="2186.0" stroke="#111" stroke-width="6"/>
<line x1="163.0" y1="2177" x2="908" y2="2177" stroke="#111" stroke-width="6"/>
<path d="M240.5 2177 V2186 M284 2177 V2186 M314.9 2177 V2186 M338.9 2177 V2186 M358.5 2177 V2186 M375 2177 V2186 M389.4 2177 V2186 M402 2177 V2186 M487.8 2177 V2186 M531.3 2177 V2186 M562.2 2177 V2186 M586.2 2177 V2186 M605.8 2177 V2186 M622.4 2177 V2186 M636.7 2177 V2186 M649.3 2177 V2186 M413.3 2177 V2186 M735.1 2177 V2186 M778.7 2177 V2186 M809.6 2177 V2186 M833.5 2177 V2186 M853.1 2177 V2186 M869.7 2177 V2186 M884 2177 V2186 M896.7 2177 V2186 M660.7 2177 V2186 M908 2177 V2186" stroke="#111" stroke-width="4" fill="none"/>
<path d="M167 2133 L168.6 2130.9 L171.3 2136.1 L173.9 2142.1 L176.6 2147.9 L179.3 2150.7 L181.4 2112 L185.7 2151 L188.3 2128.7 L191 2101.1 L194.2 2142.7 L198.5 2105.9 L201.8 2117.2 L205 2133.2 L208.2 2119.9 L211.3 2106.9 L214.2 2105.1 L217 2095.2 L219.9 2089.8 L222.6 2099.2 L225.2 2100.5 L227.9 2103.7 L230.6 2108.7 L233.4 2101 L236.2 2096.4 L239 2084.3 L241.8 2071.2 L244.5 2060.6 L247.2 2059.3 L249.8 2061 L252 2043.4 L256.3 2068.1 L259.5 2013.3 L262.1 2027.6 L264.8 2038.2 L268 2045.4 L271.2 2064 L275.5 2022.4 L278.8 2023 L282 2021.9 L284 1979.4 L286.7 2007.6 L289.4 2032.5 L291.5 1961 L295.2 1964.9 L299 1971 L302.2 1962.7 L305.5 1952 L309.7 1984.7 L312.9 1965.3 L316 1945.7 L319.3 1943.6 L322.6 1940.5 L325.4 1943.6 L328.2 1944.7 L331 1943.3 L334.2 1947.5 L337.5 1956.7 L340.8 1946.4 L344 1937.9 L346.6 1913.3 L349.3 1894.9 L353.6 1988.9 L356.8 1949.9 L359.6 1950 L362.5 1944.1 L365.3 1946.1 L368 1925.1 L370.7 1897.1 L374 1961.9 L378.2 1927.3 L380.9 1941.8 L383.7 1957.1 L386.4 1966.2 L389.1 1963.3 L391.7 1955.4 L394.4 1945.7 L397 1953.1 L399.6 1968.1 L404 2005.6 L406.7 2006.2 L409.3 2007.2 L412 2010.1 L415.2 2018.4 L418.5 2022.8 L421.2 2033.7 L423.8 2046.3 L426.5 2053.5 L429.7 2055.2 L432.8 2057.7 L436 2058.9 L440.2 2076.8 L444.5 2068.6 L447.3 2077.4 L450.2 2089.4 L453 2097.8 L455.7 2092.5 L458.4 2084.4 L461 2074.4 L463.7 2070.7 L466.6 2086.2 L469.6 2096.8 L473.3 2079.7 L477 2066.9 L479.5 2061.3 L482.1 2055.6 L484.6 2049.6 L488.3 2064.2 L492 2082.7 L495.2 2077.8 L498.5 2081.2 L501.8 2085.2 L505 2091.7 L507.8 2091 L510.7 2083.6 L513.5 2078.6 L517.8 2099.6 L520.6 2101.6 L523.5 2101.4 L526.3 2104 L529.5 2107.9 L532.7 2114.9 L537 2096.7 L539.9 2103.9 L542.7 2113.7 L545.6 2121 L548.3 2108.6 L551 2097.7 L554.2 2114.1 L557.3 2126.6 L560.5 2140.2 L563.8 2133.8 L567 2128 L570.2 2130.3 L573.4 2137.5 L576.3 2131.5 L579.1 2130.1 L582 2125.9 L585.1 2134.6 L588.3 2141.8 L591.2 2143.7 L594.1 2146.2 L597 2147 L600.1 2136.1 L603.3 2128.9 L606.5 2138.2 L609.7 2148 L612.9 2146.1 L616.2 2149.3 L619.4 2151.4 L622.6 2150.1 L625.4 2148.5 L628.2 2149.4 L631 2146.3 L635.4 2161.5 L638.3 2162.1 L641.1 2160 L644 2158.8 L646.8 2161 L649.7 2163.5 L652.5 2166.5 L655.2 2166.2 L657.9 2167.8 L660.5 2166.6 L663.2 2167.6 L665.9 2169.6 L668.6 2170.3 L671.3 2171.4 L674 2173.3 L676.9 2172.3 L679.8 2172.3 L682.7 2172.2 L685.6 2173.1 L688.4 2173 L691.3 2173.5 L694.2 2172.9 L697.1 2173.1 L700 2174" fill="none" stroke="#111111" stroke-width="4" stroke-linejoin="round" stroke-linecap="round"/>
<path d="M170 2175 L173 2174.5 L176.1 2174.6 L179.1 2174.7 L182.1 2175.4 L185.2 2174.9 L188.2 2175.2 L191.2 2174.4 L194.2 2174.9 L197.3 2175.3 L200.3 2174.9 L203.3 2175.4 L206.4 2175.3 L209.4 2174.6 L212.4 2174.2 L215.5 2175.1 L218.5 2174.3 L221.5 2174.1 L224.6 2175 L227.6 2175.1 L230.6 2175.1 L233.7 2175.2 L236.7 2174.3 L239.7 2174.1 L242.8 2174.2 L245.8 2175.2 L248.8 2174.1 L251.8 2174.2 L254.9 2174 L257.9 2174 L260.9 2174 L264 2174.3 L267 2174.1 L270 2173.1 L273.1 2173.1 L276.1 2170.6 L279.2 2170.9 L282.2 2169.7 L285.3 2168.2 L288.3 2167.2 L291.5 2166.7 L294.6 2165.2 L297.8 2163.2 L301 2162.5 L304.2 2162.8 L307.5 2163.7 L310.8 2165.8 L314 2164.8 L317.2 2159.5 L320.4 2156.4 L323.6 2153.4 L326.8 2147.8 L329.7 2152.3 L332.5 2153.8 L335.4 2157.4 L338.3 2150.1 L341.1 2138.4 L344 2130.1 L347.2 2129.4 L350.4 2127.5 L353.6 2125.6 L356.8 2124.4 L359 2103.5 L362.1 2104 L365.3 2107.4 L368.2 2100.8 L371.1 2099.2 L374 2094.6 L376.8 2090.4 L379.7 2087 L382.5 2084.1 L386.7 2099.5 L389.6 2094.6 L392.4 2091 L395.3 2082.2 L399 2072.2 L401.7 2058.1 L403.9 2024.8 L407.2 2034.6 L410.5 2041.5 L413.6 2012.4 L416.7 1987.8 L419.2 2003.3 L421.7 2021 L424.9 2001.6 L428 1972.4 L430.5 1979.5 L433 1981.9 L436 1999 L438.7 1997.2 L441.3 1989.9 L444 1979.2 L447.4 1942.4 L450.6 1945.2 L453.8 1944.6 L457 1947.1 L460.2 1945.4 L463.4 1942.9 L465.8 1926.9 L468.2 1901.3 L470.9 1918.4 L473.6 1928.4 L476.3 1939.3 L479 1928.7 L481.6 1909.4 L484.3 1899.1 L486.6 1926.3 L489 1968.9 L492.3 1901 L495.5 1903.4 L498.7 1915.5 L502 1880.7 L505.1 1890.6 L508.3 1901.9 L510.8 1875.7 L513.2 1850.5 L515.9 1854.2 L518.5 1862.2 L521.2 1864.1 L523.6 1868.6 L526 1882.7 L529.2 1874.4 L532.4 1870.5 L535.6 1853 L538.8 1853 L541.5 1853.5 L544.2 1863 L546.9 1865.2 L549.3 1861.5 L551.7 1866.3 L554.1 1882.6 L556.5 1907.1 L559.7 1902.8 L562.9 1898.4 L566.1 1911.8 L569.3 1936.2 L572.5 1959.3 L575.7 1974.8 L579.8 1976.5 L582.6 1978.9 L585.5 1986.8 L588.3 1988.2 L590.5 2003.8 L593.8 2004.3 L597 2007.4 L599 2035.7 L602.2 2037.6 L605.5 2047.3 L607.6 2079.1 L611.9 2056.1 L615.1 2079.8 L618.3 2108.4 L621.5 2114.9 L624.7 2117.4 L629 2127.8 L631.7 2130.7 L634.4 2131.6 L637 2129.1 L639.7 2129.6 L642.9 2140.9 L646 2151.1 L649.2 2149.7 L652.5 2150.2 L655.8 2154.4 L659 2158.8 L662.1 2161.7 L665.3 2165.7 L668.5 2160.9 L671.8 2158.6 L674.6 2161.3 L677.5 2167.3 L680.3 2171.1 L683.5 2171 L686.7 2171.9 L689.6 2169.8 L692.4 2166.8 L695.3 2164.1 L698.5 2167.3 L701.7 2172.6 L704.7 2173.1 L707.8 2172.7 L710.8 2172.6 L713.8 2173.9 L716.8 2173 L719.9 2174.3 L722.9 2173.9 L725.9 2173.1 L728.9 2173.9 L732 2173.7 L735 2174.7 L738 2174.4 L741 2174 L744 2175.1 L746.9 2174.9 L749.9 2174.7 L752.9 2174.6 L755.9 2174 L758.9 2175.1 L761.9 2174.3 L764.8 2174.6 L767.8 2174.6 L770.8 2174.6 L773.8 2174 L776.8 2175.1 L779.8 2174.6 L782.7 2174.5 L785.7 2175.1 L788.7 2175.1 L791.7 2174.9 L794.7 2175.2 L797.6 2174.5 L800.6 2174.2 L803.6 2174.5 L806.6 2174.8 L809.6 2175.1 L812.6 2175 L815.5 2174.9 L818.5 2174.9 L821.5 2174.9 L824.5 2174.8 L827.5 2174.2 L830.5 2174.8 L833.4 2174.5 L836.4 2174.3 L839.4 2174.9 L842.4 2175.2 L845.4 2174.6 L848.4 2175 L851.3 2175 L854.3 2175.1 L857.3 2175.3 L860.3 2175.1 L863.3 2174.4 L866.2 2175 L869.2 2174.7 L872.2 2174.8 L875.2 2175.1 L878.2 2174.5 L881.2 2175.1 L884.1 2175.5 L887.1 2174.4 L890.1 2175.4 L893.1 2175.2 L896.1 2174.8 L899.1 2175.3 L902 2174.5 L905 2174.6 L908 2175" fill="none" stroke="#e2321f" stroke-width="4.5" stroke-linejoin="round" stroke-linecap="round"/>
<text x="733.1" y="1836" font-size="50" font-weight="bold" fill="#1a1a1a" textLength="169.2" lengthAdjust="spacingAndGlyphs">Control</text>
<text transform="translate(156 2159) rotate(-90)" x="-2.4" y="0" font-size="47.1" font-weight="bold" fill="#111" textLength="372.9" lengthAdjust="spacingAndGlyphs">Relative Cell Number</text>
<text x="145" y="2228" font-size="31.4" font-weight="bold" fill="#222" textLength="36.3" lengthAdjust="spacingAndGlyphs">10</text>
<text x="183.5" y="2208.5" font-size="14.3" font-weight="normal" fill="#444" textLength="7" lengthAdjust="spacingAndGlyphs">0</text>
<text x="392.3" y="2228" font-size="31.4" font-weight="bold" fill="#222" textLength="36.3" lengthAdjust="spacingAndGlyphs">10</text>
<text x="430.3" y="2208.5" font-size="14.3" font-weight="normal" fill="#444" textLength="7.7" lengthAdjust="spacingAndGlyphs">1</text>
<text x="639.6" y="2228" font-size="31.4" font-weight="bold" fill="#222" textLength="36.3" lengthAdjust="spacingAndGlyphs">10</text>
<text x="677.9" y="2208.5" font-size="14.3" font-weight="normal" fill="#444" textLength="7.3" lengthAdjust="spacingAndGlyphs">2</text>
<text x="886.9" y="2228" font-size="31.4" font-weight="bold" fill="#222" textLength="36.3" lengthAdjust="spacingAndGlyphs">10</text>
<text x="925.4" y="2208.5" font-size="14.3" font-weight="normal" fill="#444" textLength="7" lengthAdjust="spacingAndGlyphs">3</text>
<text x="374.6" y="2255" font-size="41.4" font-weight="bold" fill="#111" textLength="324.9" lengthAdjust="spacingAndGlyphs">LtxA fluorescence</text>
<rect x="166" y="2277" width="27" height="26" fill="#111111" stroke="#3a3a3a" stroke-width="2.5"/>
<rect x="166" y="2310" width="27" height="27" fill="#c2291f" stroke="#3a3a3a" stroke-width="2.5"/>
<text x="201.7" y="2302" font-size="30" font-weight="normal" fill="#3e3e3e" textLength="293.2" lengthAdjust="spacingAndGlyphs">Untreated (MCF=6.7)</text>
<text x="201.5" y="2335" font-size="30" font-weight="normal" fill="#3e3e3e" textLength="341.4" lengthAdjust="spacingAndGlyphs">LtxA treated (MCF=49.1)</text>
<line x1="168" y1="2401" x2="168" y2="2826.5" stroke="#111" stroke-width="6"/>
<line x1="165.0" y1="2817.5" x2="911" y2="2817.5" stroke="#111" stroke-width="6"/>
<path d="M242.6 2817.5 V2826.5 M286.2 2817.5 V2826.5 M317.1 2817.5 V2826.5 M341.1 2817.5 V2826.5 M360.7 2817.5 V2826.5 M377.3 2817.5 V2826.5 M391.7 2817.5 V2826.5 M404.3 2817.5 V2826.5 M490.2 2817.5 V2826.5 M533.8 2817.5 V2826.5 M564.8 2817.5 V2826.5 M588.8 2817.5 V2826.5 M608.4 2817.5 V2826.5 M625 2817.5 V2826.5 M639.3 2817.5 V2826.5 M652 2817.5 V2826.5 M415.7 2817.5 V2826.5 M737.9 2817.5 V2826.5 M781.5 2817.5 V2826.5 M812.4 2817.5 V2826.5 M836.4 2817.5 V2826.5 M856.1 2817.5 V2826.5 M872.6 2817.5 V2826.5 M887 2817.5 V2826.5 M899.7 2817.5 V2826.5 M663.3 2817.5 V2826.5 M911 2817.5 V2826.5" stroke="#111" stroke-width="4" fill="none"/>
<path d="M168 2742 L169.6 2741.9 L172.3 2760.5 L175 2779.6 L178.2 2765.8 L181.4 2747.1 L184.6 2761.5 L187.8 2774.7 L192 2739.7 L194.7 2760.7 L197.4 2779.1 L200.6 2750.5 L205 2790.1 L209.2 2733.7 L212.4 2743.2 L215.6 2753.6 L217.8 2732 L220.6 2736.7 L223.5 2734.9 L226.3 2739.1 L229.5 2719.7 L232.7 2696.8 L235.8 2713.1 L239 2720.2 L243.4 2685.1 L246.6 2713.6 L249.8 2738.7 L254 2665 L258.4 2726.7 L262.1 2687.5 L265.9 2656.1 L268.6 2661.1 L271.2 2675.9 L273.9 2683.3 L276.6 2694.2 L280.3 2656.7 L284 2627.5 L287.2 2640.7 L290.5 2651.3 L294.8 2617.9 L297.5 2622 L300.1 2620.1 L302.8 2614 L305.5 2611.1 L308.1 2627.2 L310.8 2636.9 L314.6 2600.5 L318.3 2560.5 L321.5 2587.5 L324.7 2612.4 L327.9 2588.5 L331 2566.6 L334.2 2577.5 L337.5 2583.3 L340.8 2561.7 L344 2535.4 L347.7 2576.9 L351.4 2613.3 L354.1 2592.3 L356.8 2572.4 L360.4 2583.5 L364 2595.1 L367.5 2555.4 L370.8 2569.4 L374 2582.2 L377.1 2564.5 L380.3 2557.5 L383.2 2567 L386 2588.1 L388.9 2600.3 L391.5 2603.3 L394.2 2604.3 L397.9 2618.8 L401.7 2638.2 L405 2596.7 L408.7 2607.7 L412.4 2626.5 L415.3 2636.7 L418.1 2644.1 L421 2649.8 L425 2637.2 L428.4 2661.4 L431.7 2676.7 L434.9 2669.8 L438 2666.9 L442.4 2698.2 L445.3 2703 L448.1 2700 L451 2704.6 L454.1 2715 L457.3 2731.8 L459.7 2704.1 L462.1 2676.9 L464.3 2716.3 L467.1 2721.7 L470 2726.7 L472.8 2733.4 L475.5 2728.7 L478.2 2717.6 L481.4 2746.6 L484.6 2744.1 L487.8 2737.6 L491 2734.3 L494.2 2729.4 L497.1 2733.4 L499.9 2731.6 L502.8 2738 L506 2743.2 L509.2 2751.3 L512.1 2754 L514.9 2757.3 L517.8 2763.2 L521 2769.1 L524.2 2775.1 L527 2769.5 L529.9 2769.8 L532.7 2769.3 L537 2787 L539.9 2789.4 L542.7 2792.7 L545.6 2793.9 L548.8 2784.2 L552 2772.8 L554.8 2774 L557.7 2780.1 L560.5 2784.8 L563.2 2785.4 L565.9 2788.3 L568.5 2790.8 L571.2 2792.3 L573.9 2784.7 L576.6 2778.6 L580.3 2793.1 L584 2803.9 L586.9 2802.4 L589.7 2800.5 L592.6 2796.5 L595.3 2795.9 L598 2793.3 L600.6 2793.4 L603.3 2791.5 L606.5 2795.3 L609.7 2801.5 L612.9 2803.4 L616.2 2804 L619.4 2805.6 L622.6 2807.9 L625.4 2805.4 L628.2 2805.1 L631 2804.8 L633.7 2805.1 L636.4 2803.5 L639.1 2806.1 L641.8 2806.4 L645 2809.5 L648.2 2811.3 L651.2 2813.1 L654.2 2812.5 L657.2 2813.9 L660.2 2813.6 L663.2 2814.3" fill="none" stroke="#111111" stroke-width="4.5" stroke-linejoin="round" stroke-linecap="round"/>
<path d="M170 2815 L173.1 2815.1 L176.2 2814.3 L179.3 2814.5 L182.4 2814.4 L185.5 2814.9 L188.6 2814.8 L191.8 2815 L194.9 2813.9 L198 2814.3 L201.1 2813.7 L204.2 2813.9 L207.3 2814.1 L210.4 2813.5 L213.5 2813.6 L216.5 2814.1 L219.5 2813.8 L222.5 2813.1 L225.5 2813.5 L228.5 2813.7 L231.5 2812.2 L234.5 2813.4 L237.6 2813.1 L240.6 2812.3 L243.6 2811.8 L246.6 2813.1 L249.6 2811.8 L252.6 2811.2 L255.6 2811 L258.6 2812.3 L261.6 2811.7 L264.6 2812 L267.6 2811.7 L270.6 2811.1 L273.6 2811.9 L276.6 2810.5 L279.6 2810.7 L282.6 2811.1 L285.6 2810.5 L288.7 2810.9 L291.7 2810.1 L294.7 2810.2 L297.7 2808.6 L300.7 2808.9 L303.7 2808.8 L306.7 2808.2 L309.7 2808.4 L312.9 2807.4 L316.1 2807.3 L319.4 2807.5 L322.6 2806.3 L325.6 2805.4 L328.6 2804.1 L331.5 2803.4 L334.5 2804.5 L337.5 2802.8 L340.5 2802.3 L343.5 2800.5 L346.5 2801.8 L349.5 2799.6 L352.5 2799.8 L355.8 2806.9 L359 2811.3 L361.8 2806.8 L364.7 2802.9 L367.5 2799.1 L370.3 2797.5 L373.2 2794.3 L376 2792.2 L378.7 2793.2 L381.4 2793 L384 2792.8 L386.7 2795.3 L389.6 2789.5 L392.4 2781.7 L395.3 2777.4 L398.5 2774.1 L401.7 2774.2 L405 2740.1 L408.7 2744.4 L412.4 2749.7 L416.7 2744.9 L421 2713.2 L423.8 2717.3 L426.7 2721.3 L429.5 2720.4 L432.8 2708.6 L436 2703 L439.2 2682.7 L442.4 2662.5 L445.6 2636.2 L448.8 2610.8 L451.6 2617.2 L454.5 2620.7 L457.3 2619.9 L460 2618.3 L462.9 2616.6 L465.7 2617.4 L468.6 2609.2 L470.7 2561.9 L473.9 2563.1 L477 2557.5 L479.3 2553.1 L482.5 2589.2 L485.7 2523.8 L490 2538.3 L492.6 2539.7 L495.3 2532.5 L498 2533.5 L500.6 2531.6 L503.8 2545.8 L507 2554.5 L511.3 2525.4 L514.5 2535.2 L517.8 2539.7 L520.4 2510.5 L523 2473.9 L525.7 2480.7 L528.4 2497 L530.6 2526.7 L534.9 2472.8 L537.7 2499.7 L540.6 2518.1 L543.4 2541 L546.3 2509.5 L549.1 2474.8 L552 2448.8 L556.3 2505.8 L559.1 2515.5 L562 2515.7 L564.8 2516 L567.7 2514.4 L570.5 2515.5 L573.4 2527.1 L575.5 2576.6 L578.8 2578.6 L582 2591.8 L585.1 2589.2 L588.3 2596.2 L591.5 2621.8 L594.8 2642.4 L598 2621.6 L601.2 2598.7 L605.5 2662.9 L609.7 2633.4 L611.9 2702.6 L615.1 2687.2 L618.3 2675.6 L621.1 2686.8 L624 2693.2 L626.8 2704 L629 2742.2 L633.3 2742.4 L636.5 2749.3 L639.6 2757.7 L642.8 2763.9 L646 2772.5 L648.9 2774.4 L651.8 2776.9 L654.7 2776.9 L657.9 2786.5 L661 2795.8 L664 2796.8 L667 2794.6 L670 2796.1 L673 2795.1 L676 2791.5 L678.9 2797.2 L681.7 2803.5 L684.6 2807.3 L687.8 2802.7 L691 2800.8 L695.3 2812.3 L698.4 2812.3 L701.4 2813 L704.5 2813.2 L707.5 2812.3 L710.6 2812.3 L713.6 2813 L716.7 2813.2 L719.7 2813.3 L722.7 2813.7 L725.7 2813.6 L728.7 2814.1 L731.6 2812.8 L734.6 2813.3 L737.6 2813.2 L740.6 2814 L743.6 2813.1 L746.6 2813 L749.6 2813.4 L752.6 2813.4 L755.6 2813.2 L758.5 2813.2 L761.5 2814.2 L764.5 2813.5 L767.5 2814.2 L770.5 2813.7 L773.5 2813 L776.5 2814.4 L779.5 2814.2 L782.5 2814.4 L785.5 2814.3 L788.4 2814.2 L791.4 2813.3 L794.4 2813.8 L797.4 2813.4 L800.4 2813.7 L803.4 2813.2 L806.4 2813.7 L809.4 2814.5 L812.4 2813.6 L815.3 2814.3 L818.3 2813.9 L821.3 2813.8 L824.3 2814.6 L827.3 2814.6 L830.3 2814.1 L833.3 2814.3 L836.3 2813.6 L839.3 2813.8 L842.2 2814.6 L845.2 2814.2 L848.2 2814.2 L851.2 2814.4 L854.2 2813.6 L857.2 2814.3 L860.2 2814.2 L863.2 2814.6 L866.2 2813.8 L869.2 2814.8 L872.1 2813.8 L875.1 2813.9 L878.1 2814.4 L881.1 2814.5 L884.1 2814 L887.1 2813.9 L890.1 2814.8 L893.1 2814.1 L896.1 2814.5 L899 2814.6 L902 2814.3 L905 2814.6 L908 2814.5 L911 2814.5" fill="none" stroke="#e2321f" stroke-width="4.5" stroke-linejoin="round" stroke-linecap="round"/>
<text x="665" y="2470" font-size="51.4" font-weight="bold" fill="#1a1a1a" textLength="33.6" lengthAdjust="spacingAndGlyphs">K</text>
<text x="700.3" y="2444" font-size="17.1" font-weight="bold" fill="#1a1a1a" textLength="10.4" lengthAdjust="spacingAndGlyphs">+</text>
<text x="715.1" y="2470" font-size="51.4" font-weight="bold" fill="#1a1a1a" textLength="210" lengthAdjust="spacingAndGlyphs">-depleted</text>
<text transform="translate(156 2798) rotate(-90)" x="-2.4" y="0" font-size="47.1" font-weight="bold" fill="#111" textLength="376" lengthAdjust="spacingAndGlyphs">Relative Cell Number</text>
<text x="147" y="2868" font-size="31.4" font-weight="bold" fill="#222" textLength="36.3" lengthAdjust="spacingAndGlyphs">10</text>
<text x="185.5" y="2848.5" font-size="14.3" font-weight="normal" fill="#444" textLength="7" lengthAdjust="spacingAndGlyphs">0</text>
<text x="394.7" y="2868" font-size="31.4" font-weight="bold" fill="#222" textLength="36.3" lengthAdjust="spacingAndGlyphs">10</text>
<text x="432.7" y="2848.5" font-size="14.3" font-weight="normal" fill="#444" textLength="7.7" lengthAdjust="spacingAndGlyphs">1</text>
<text x="642.4" y="2868" font-size="31.4" font-weight="bold" fill="#222" textLength="36.3" lengthAdjust="spacingAndGlyphs">10</text>
<text x="680.7" y="2848.5" font-size="14.3" font-weight="normal" fill="#444" textLength="7.3" lengthAdjust="spacingAndGlyphs">2</text>
<text x="890.1" y="2868" font-size="31.4" font-weight="bold" fill="#222" textLength="36.3" lengthAdjust="spacingAndGlyphs">10</text>
<text x="928.6" y="2848.5" font-size="14.3" font-weight="normal" fill="#444" textLength="7" lengthAdjust="spacingAndGlyphs">3</text>
<text x="374.6" y="2894" font-size="38.6" font-weight="bold" fill="#111" textLength="324.9" lengthAdjust="spacingAndGlyphs">LtxA fluorescence</text>
<rect x="160" y="2916" width="26" height="26" fill="#111111" stroke="#3a3a3a" stroke-width="2.5"/>
<rect x="160" y="2952" width="26" height="26" fill="#c2291f" stroke="#3a3a3a" stroke-width="2.5"/>
<text x="195.7" y="2941" font-size="30" font-weight="normal" fill="#3e3e3e" textLength="293.2" lengthAdjust="spacingAndGlyphs">Untreated (MCF=7.6)</text>
<text x="195.5" y="2976" font-size="30" font-weight="normal" fill="#3e3e3e" textLength="341.4" lengthAdjust="spacingAndGlyphs">LtxA treated (MCF=47.2)</text>
<line x1="1116" y1="224" x2="1116" y2="654.25" stroke="#111" stroke-width="5.5"/>
<line x1="1113.25" y1="645.5" x2="1780" y2="645.5" stroke="#111" stroke-width="5.5"/>
<path d="M1182.6 645.5 V653.2 M1221.6 645.5 V653.2 M1249.3 645.5 V653.2 M1270.7 645.5 V653.2 M1288.2 645.5 V653.2 M1303 645.5 V653.2 M1315.9 645.5 V653.2 M1327.2 645.5 V653.2 M1404 645.5 V653.2 M1442.9 645.5 V653.2 M1470.6 645.5 V653.2 M1492 645.5 V653.2 M1509.6 645.5 V653.2 M1524.4 645.5 V653.2 M1537.2 645.5 V653.2 M1548.5 645.5 V653.2 M1337.3 645.5 V653.2 M1625.3 645.5 V653.2 M1664.3 645.5 V653.2 M1691.9 645.5 V653.2 M1713.4 645.5 V653.2 M1730.9 645.5 V653.2 M1745.7 645.5 V653.2 M1758.6 645.5 V653.2 M1769.9 645.5 V653.2 M1558.7 645.5 V653.2 M1780 645.5 V653.2" stroke="#111" stroke-width="4" fill="none"/>
<text x="1095.4" y="692.5" font-size="32.9" font-weight="bold" fill="#222" textLength="38.5" lengthAdjust="spacingAndGlyphs">10</text>
<text x="1136.5" y="674.5" font-size="14.3" font-weight="normal" fill="#444" textLength="7" lengthAdjust="spacingAndGlyphs">0</text>
<text x="1316.8" y="692.5" font-size="32.9" font-weight="bold" fill="#222" textLength="38.5" lengthAdjust="spacingAndGlyphs">10</text>
<text x="1357.3" y="674.5" font-size="14.3" font-weight="normal" fill="#444" textLength="7.7" lengthAdjust="spacingAndGlyphs">1</text>
<text x="1538.1" y="692.5" font-size="32.9" font-weight="bold" fill="#222" textLength="38.5" lengthAdjust="spacingAndGlyphs">10</text>
<text x="1579" y="674.5" font-size="14.3" font-weight="normal" fill="#444" textLength="7.3" lengthAdjust="spacingAndGlyphs">2</text>
<text x="1759.4" y="692.5" font-size="32.9" font-weight="bold" fill="#222" textLength="38.5" lengthAdjust="spacingAndGlyphs">10</text>
<text x="1800.5" y="674.5" font-size="14.3" font-weight="normal" fill="#444" textLength="7" lengthAdjust="spacingAndGlyphs">3</text>
<text x="1286.6" y="718.5" font-size="38.6" font-weight="bold" fill="#111" textLength="321.8" lengthAdjust="spacingAndGlyphs">LtxA fluorescence</text>
<path d="M1116 640 L1118 635.7 L1121.5 635 L1125 630.9 L1127.7 636.5 L1130.3 634.9 L1133 638.3 L1136.5 636.5 L1140 629.3 L1143.3 632.6 L1146.7 630.3 L1150 628.3 L1152.7 630.2 L1155.3 631.2 L1158 631.1 L1160.5 629.8 L1163 619.2 L1167 607.3 L1169.5 610.6 L1172 607.4 L1174.5 606.1 L1177 604.8 L1180.5 591.9 L1184 566.6 L1188 591.4 L1191 607.7 L1195 588.6 L1198.5 590.4 L1202 588.3 L1206 555.5 L1209 537.3 L1212 535.5 L1215 545.4 L1218.5 517 L1222 502.7 L1226 513.9 L1230 486.4 L1233 466.8 L1237 496.1 L1240 513.7 L1243 400.4 L1247 440.9 L1250 448.2 L1254 378.3 L1256.5 390.9 L1259 393 L1261.5 390.9 L1264 411.9 L1267 383.7 L1270 394.9 L1272.5 380.2 L1275 365 L1277.5 378 L1280 388.8 L1282.5 386.3 L1285 407.2 L1287.5 394.2 L1290 391.9 L1292.5 377.8 L1295 366.3 L1298 361.4 L1301 349.4 L1303.5 369.6 L1306 394.9 L1310 370.6 L1313 350.2 L1317 390.5 L1320 408.8 L1323.5 409 L1327 389.8 L1329.5 408.7 L1332 410.6 L1334.5 432.9 L1337 443.7 L1339.5 457.3 L1342 477.3 L1345 482.2 L1348 509.2 L1350.5 515 L1353 517 L1355.5 539 L1358 532.8 L1360.5 547 L1363 555.5 L1365.5 562.9 L1368 574.8 L1372 599" fill="none" stroke="#111111" stroke-width="5" stroke-linejoin="round" stroke-linecap="round"/>
<path d="M1351 642 L1353.5 640.8 L1356 637.1 L1359 634.5 L1362 630 L1365 624.4 L1368 615.7 L1371.5 616 L1375 611.7 L1379 577.5 L1382.5 553.5 L1386 531 L1390 503.9 L1393 485 L1397 461.4 L1400 445.1 L1403.5 436.5 L1407 431.5 L1410 391.1 L1414 321.3 L1418 307.7 L1421 305.8 L1425 284.1 L1428 272.8 L1430.5 265.3 L1433 257.3 L1435.5 263.8 L1438 265.8 L1441 286.8 L1443 299.9 L1445.5 295 L1448 289.3 L1452 282.2 L1455 277.3 L1459 278.6 L1462 285.8 L1466 331.9 L1470 349.9 L1473 361.9 L1477 373.4 L1480 386.3 L1482.5 403.9 L1485 424.9 L1487.5 433.3 L1490 435.2 L1494 454.7 L1497 474.6 L1500 489.3 L1504 505.8 L1508 522.6 L1511 540.6 L1514 567 L1517.5 573.3 L1521 577.6 L1523.5 582.2 L1526 587.2 L1529 591.8 L1532 593.4 L1534.5 601.5 L1537 605.4 L1539.5 609.7 L1542 612.8 L1545 618.1 L1548 621 L1550.5 622.7 L1553 627.5 L1555.5 631.4 L1558 634.6 L1560.5 638.3 L1563 641 L1565.8 641.7 L1568.5 641.6 L1571.2 642.7 L1574 643" fill="none" stroke="#e2321f" stroke-width="5" stroke-linejoin="round" stroke-linecap="round"/>
<text x="1586.1" y="304" font-size="47.1" font-weight="bold" fill="#1a1a1a" textLength="225.2" lengthAdjust="spacingAndGlyphs">Untreated</text>
<text x="1587.1" y="358" font-size="47.1" font-weight="bold" fill="#1a1a1a" textLength="114.9" lengthAdjust="spacingAndGlyphs">Cells</text>
<text transform="translate(1102 620) rotate(-90)" x="-2.4" y="0" font-size="47.1" font-weight="bold" fill="#111" textLength="376" lengthAdjust="spacingAndGlyphs">Relative Cell Number</text>
<rect x="1110" y="734" width="26" height="25" fill="#111111" stroke="#3a3a3a" stroke-width="2.5"/>
<rect x="1110" y="769" width="26" height="25" fill="#c2291f" stroke="#3a3a3a" stroke-width="2.5"/>
<text x="1146.7" y="759" font-size="30" font-weight="normal" fill="#3e3e3e" textLength="291.2" lengthAdjust="spacingAndGlyphs">Untreated (MCF=6.9)</text>
<text x="1146.5" y="794" font-size="30" font-weight="normal" fill="#3e3e3e" textLength="339.4" lengthAdjust="spacingAndGlyphs">LtxA treated (MCF=38.2)</text>
<line x1="1114" y1="819" x2="1114" y2="1247.75" stroke="#111" stroke-width="5.5"/>
<line x1="1111.25" y1="1239" x2="1780" y2="1239" stroke="#111" stroke-width="5.5"/>
<path d="M1180.8 1239 V1246.8 M1219.9 1239 V1246.8 M1247.7 1239 V1246.8 M1269.2 1239 V1246.8 M1286.7 1239 V1246.8 M1301.6 1239 V1246.8 M1314.5 1239 V1246.8 M1325.8 1239 V1246.8 M1402.8 1239 V1246.8 M1441.9 1239 V1246.8 M1469.7 1239 V1246.8 M1491.2 1239 V1246.8 M1508.7 1239 V1246.8 M1523.6 1239 V1246.8 M1536.5 1239 V1246.8 M1547.8 1239 V1246.8 M1336 1239 V1246.8 M1624.8 1239 V1246.8 M1663.9 1239 V1246.8 M1691.7 1239 V1246.8 M1713.2 1239 V1246.8 M1730.7 1239 V1246.8 M1745.6 1239 V1246.8 M1758.5 1239 V1246.8 M1769.8 1239 V1246.8 M1558 1239 V1246.8 M1780 1239 V1246.8" stroke="#111" stroke-width="4" fill="none"/>
<text x="1093.4" y="1286" font-size="32.9" font-weight="bold" fill="#222" textLength="38.5" lengthAdjust="spacingAndGlyphs">10</text>
<text x="1134.5" y="1268" font-size="14.3" font-weight="normal" fill="#444" textLength="7" lengthAdjust="spacingAndGlyphs">0</text>
<text x="1315.4" y="1286" font-size="32.9" font-weight="bold" fill="#222" textLength="38.5" lengthAdjust="spacingAndGlyphs">10</text>
<text x="1356" y="1268" font-size="14.3" font-weight="normal" fill="#444" textLength="7.7" lengthAdjust="spacingAndGlyphs">1</text>
<text x="1537.4" y="1286" font-size="32.9" font-weight="bold" fill="#222" textLength="38.5" lengthAdjust="spacingAndGlyphs">10</text>
<text x="1578.3" y="1268" font-size="14.3" font-weight="normal" fill="#444" textLength="7.3" lengthAdjust="spacingAndGlyphs">2</text>
<text x="1759.4" y="1286" font-size="32.9" font-weight="bold" fill="#222" textLength="38.5" lengthAdjust="spacingAndGlyphs">10</text>
<text x="1800.5" y="1268" font-size="14.3" font-weight="normal" fill="#444" textLength="7" lengthAdjust="spacingAndGlyphs">3</text>
<text x="1279.5" y="1312" font-size="38.6" font-weight="bold" fill="#111" textLength="328.9" lengthAdjust="spacingAndGlyphs">LtxA fluorescence</text>
<path d="M1114 1232 L1116.4 1231.7 L1119.4 1231 L1122.4 1228.8 L1125.4 1228.1 L1128.4 1227.3 L1131.4 1225 L1134.1 1227.2 L1136.7 1228.7 L1139.3 1230.6 L1142 1230.7 L1144.7 1229.7 L1147.4 1230.3 L1150.1 1228.7 L1152.8 1226.5 L1156 1223.9 L1159.2 1218.6 L1162.4 1215.3 L1165.6 1211.8 L1168.5 1207.7 L1171.3 1203.9 L1174.2 1201.6 L1177 1201.4 L1179.9 1199.6 L1182.7 1200.1 L1185.8 1194.9 L1189 1184.8 L1191.9 1178.5 L1194.8 1170.6 L1197.7 1166 L1200.8 1170.2 L1204 1175.7 L1207.2 1175.9 L1210.5 1179.2 L1213.8 1154.7 L1217 1128.6 L1221.2 1100.9 L1224.4 1118.9 L1227.6 1140.9 L1232 1063.4 L1234.7 1065.1 L1237.3 1071 L1239.9 1076.7 L1242.6 1087 L1244.8 1039.1 L1247.9 1029.5 L1251 1028.1 L1253.2 1020.1 L1255.5 1012.2 L1257.6 1024.4 L1261.9 939.7 L1266 972.2 L1268.9 982.4 L1271.8 981.2 L1274.7 988 L1279 956.7 L1282.2 962.2 L1285.4 966.1 L1289.7 913 L1292.8 939.9 L1296 957.3 L1300.4 923.2 L1304.7 941.2 L1309 936.2 L1312.2 944.3 L1315.3 954.7 L1318.5 974.8 L1321.8 997.8 L1324.6 1006.6 L1327.5 1008.6 L1330.3 1015.2 L1333.5 1048 L1336.7 1082.8 L1341 1084.1 L1345.3 1124.7 L1348.5 1125.3 L1351.7 1126.6 L1356 1155.4 L1359.2 1171 L1362.4 1182.7 L1366.7 1187.4 L1369.5 1187.6 L1372.4 1190.6 L1375.2 1188.1 L1379.5 1207.7 L1382.3 1208.1 L1385.2 1212 L1388 1211.5 L1392.4 1223.2 L1395.6 1224.6 L1398.8 1225.2 L1402 1225.9 L1405.2 1226.8 L1408 1229.8 L1410.9 1231.1 L1413.7 1233.9 L1416.9 1233.4 L1420.2 1232.3 L1423.4 1230.8 L1426.6 1229.6 L1429.5 1229.2 L1432.4 1230.9 L1435.4 1231.5 L1438.3 1230.9 L1441.2 1230.9 L1444.2 1232.2 L1447.1 1232.4 L1450 1233.6 L1452.9 1233.3 L1455.9 1232.8 L1458.8 1232.9 L1461.8 1232.7 L1464.7 1233 L1467.6 1232.9 L1470.6 1232.9 L1473.5 1232.1 L1476.5 1233 L1479.4 1231.7 L1482.4 1231.9 L1485.3 1232.4 L1488.2 1231.4 L1491.2 1232.4 L1494.1 1231.8 L1497.1 1231.8 L1500 1231.3 L1503 1231.9 L1506 1232.3 L1509 1231.5 L1512 1233 L1515 1233.3 L1518 1232.6 L1521 1232.8 L1524 1233.3 L1527 1233.1 L1530 1233.3 L1533 1233.1 L1536 1233.2 L1539 1233.1 L1542 1232.8 L1545 1233.9 L1548 1233.8 L1551 1233 L1554 1234.2 L1557 1234.5 L1560 1233.9 L1563 1234.5 L1566 1233.5 L1569 1234 L1572 1234.2 L1575 1233.6 L1578 1233.4 L1581 1233.1 L1584 1233.7 L1587 1233.3 L1590 1233.5 L1593 1233.6 L1596 1233 L1599 1233.2 L1602 1232.6 L1605 1233.5 L1608 1233.6 L1611 1232.8 L1614 1232.6 L1617 1233.3 L1620 1233" fill="none" stroke="#e2321f" stroke-width="5.5" stroke-linejoin="round" stroke-linecap="round"/>
<text x="1534.1" y="891" font-size="50" font-weight="bold" fill="#1a1a1a" textLength="241.6" lengthAdjust="spacingAndGlyphs">+Dynasore</text>
<text transform="translate(1102 1211) rotate(-90)" x="-2.4" y="0" font-size="47.1" font-weight="bold" fill="#111" textLength="377" lengthAdjust="spacingAndGlyphs">Relative Cell Number</text>
<rect x="1106" y="1323" width="25" height="25" fill="#c2291f" stroke="#3a3a3a" stroke-width="2.5"/>
<text x="1141.5" y="1348" font-size="30" font-weight="normal" fill="#3e3e3e" textLength="326.4" lengthAdjust="spacingAndGlyphs">LtxA treated (MCF=8.4)</text>
<line x1="1117" y1="1367" x2="1117" y2="1799.75" stroke="#111" stroke-width="5.5"/>
<line x1="1114.25" y1="1791" x2="1781" y2="1791" stroke="#111" stroke-width="5.5"/>
<path d="M1183.6 1791 V1798.8 M1222.6 1791 V1798.8 M1250.3 1791 V1798.8 M1271.7 1791 V1798.8 M1289.2 1791 V1798.8 M1304 1791 V1798.8 M1316.9 1791 V1798.8 M1328.2 1791 V1798.8 M1405 1791 V1798.8 M1443.9 1791 V1798.8 M1471.6 1791 V1798.8 M1493 1791 V1798.8 M1510.6 1791 V1798.8 M1525.4 1791 V1798.8 M1538.2 1791 V1798.8 M1549.5 1791 V1798.8 M1338.3 1791 V1798.8 M1626.3 1791 V1798.8 M1665.3 1791 V1798.8 M1692.9 1791 V1798.8 M1714.4 1791 V1798.8 M1731.9 1791 V1798.8 M1746.7 1791 V1798.8 M1759.6 1791 V1798.8 M1770.9 1791 V1798.8 M1559.7 1791 V1798.8 M1781 1791 V1798.8" stroke="#111" stroke-width="4" fill="none"/>
<text x="1096.4" y="1838" font-size="32.9" font-weight="bold" fill="#222" textLength="38.5" lengthAdjust="spacingAndGlyphs">10</text>
<text x="1137.5" y="1820" font-size="14.3" font-weight="normal" fill="#444" textLength="7" lengthAdjust="spacingAndGlyphs">0</text>
<text x="1317.8" y="1838" font-size="32.9" font-weight="bold" fill="#222" textLength="38.5" lengthAdjust="spacingAndGlyphs">10</text>
<text x="1358.3" y="1820" font-size="14.3" font-weight="normal" fill="#444" textLength="7.7" lengthAdjust="spacingAndGlyphs">1</text>
<text x="1539.1" y="1838" font-size="32.9" font-weight="bold" fill="#222" textLength="38.5" lengthAdjust="spacingAndGlyphs">10</text>
<text x="1580" y="1820" font-size="14.3" font-weight="normal" fill="#444" textLength="7.3" lengthAdjust="spacingAndGlyphs">2</text>
<text x="1760.4" y="1838" font-size="32.9" font-weight="bold" fill="#222" textLength="38.5" lengthAdjust="spacingAndGlyphs">10</text>
<text x="1801.5" y="1820" font-size="14.3" font-weight="normal" fill="#444" textLength="7" lengthAdjust="spacingAndGlyphs">3</text>
<text x="1288.6" y="1864" font-size="38.6" font-weight="bold" fill="#111" textLength="322.8" lengthAdjust="spacingAndGlyphs">LtxA fluorescence</text>
<path d="M1120 1785 L1123 1785.6 L1126 1784.5 L1129 1785.1 L1132 1785 L1135 1785.7 L1138 1784.8 L1141 1784.9 L1144 1785.1 L1147 1784.8 L1150 1785.6 L1153 1785.6 L1156 1785.3 L1159 1784.3 L1162 1785.7 L1165 1785.1 L1168 1785.1 L1171 1785.1 L1174 1785 L1177 1785.6 L1180 1784.7 L1183 1784.4 L1186 1785.7 L1189 1784.5 L1192 1784.5 L1195 1784.7 L1198 1785.3 L1201 1784.5 L1204 1783.8 L1207 1784.2 L1210 1784.1 L1213 1783.7 L1216 1785 L1219 1784.7 L1222 1783.7 L1225 1783.8 L1228 1785 L1231 1784.5 L1234 1784 L1237 1784.2 L1240 1784.8 L1243 1783.3 L1246 1783.7 L1249 1782.4 L1252 1783 L1255 1782.3 L1258 1782.2 L1261 1782.1 L1264 1781.9 L1267 1782.5 L1270 1781.3 L1273 1780.4 L1276 1781.6 L1279 1781.5 L1282 1781.2 L1285 1779.9 L1288 1779.7 L1291 1780.3 L1294 1778.7 L1297 1778.4 L1300 1779 L1302.8 1777.5 L1305.5 1777.1 L1308.2 1775.6 L1311 1776.4 L1314.6 1770 L1317.6 1773.9 L1320.7 1778.1 L1323.7 1782.3 L1326.8 1775.4 L1329.8 1767.6 L1332.9 1759.8 L1335.9 1760.2 L1339 1759.3 L1342 1758.7 L1344.8 1742.2 L1347.5 1724.7 L1351.2 1723.8 L1354.8 1722.4 L1358.4 1713.8 L1362 1702.7 L1364.8 1688.8 L1367.6 1678.8 L1370.3 1656 L1373 1636.3 L1376.7 1587.3 L1379.7 1586 L1382.8 1586.4 L1385.8 1585.1 L1389.5 1558.7 L1393 1526.8 L1395.8 1516.7 L1398.6 1505.4 L1400.4 1475.1 L1404.1 1470.7 L1407.7 1466.3 L1409.5 1427.6 L1413.2 1431.7 L1416.9 1423.9 L1420.5 1369.8 L1424.2 1398.3 L1427.8 1373.3 L1430.5 1402.4 L1433.3 1374.1 L1437 1416.8 L1439.7 1425.5 L1442.4 1437.5 L1446 1469.3 L1448.8 1474.2 L1451.5 1483.5 L1455.2 1538.6 L1458.8 1541.1 L1461.5 1563.7 L1464.3 1585 L1467 1593.9 L1469.8 1610 L1473.5 1633.3 L1476.2 1658.4 L1479 1678.5 L1480.8 1696.4 L1484.4 1683.3 L1488 1704.4 L1490.8 1722.6 L1493.5 1742.5 L1496.6 1745 L1499.6 1746.5 L1502.7 1748.8 L1506.3 1756.1 L1510 1763.7 L1513 1762.1 L1516 1764.3 L1519 1765.6 L1522.8 1775 L1525.5 1775.5 L1528.2 1776.3 L1531 1776 L1533.7 1776 L1536.6 1776.7 L1539.5 1778.6 L1542.5 1778.1 L1545.4 1779.4 L1548.3 1778.3 L1551.2 1779 L1554.2 1777.4 L1557.1 1777.2 L1560 1777.5 L1563.1 1778.3 L1566.2 1778.6 L1569.2 1778.5 L1572.3 1777.4 L1575.4 1778.8 L1578.5 1779.3 L1581.5 1778.7 L1584.6 1779.6 L1587.7 1779.4 L1590.8 1780.4 L1593.8 1780.9 L1596.9 1781 L1600 1780.5 L1603.1 1780.2 L1606.1 1780.8 L1609.2 1781.3 L1612.2 1780.7 L1615.3 1782 L1618.4 1782.2 L1621.4 1782.2 L1624.5 1782 L1627.6 1783 L1630.6 1782.2 L1633.7 1782.1 L1636.8 1783.1 L1639.8 1782.8 L1642.9 1782.8 L1645.9 1782.8 L1649 1782.5 L1652 1782.7 L1655 1782.9 L1658 1783.7 L1661 1783.1 L1664 1783 L1667 1782.8 L1670 1783.9 L1673 1783.2 L1676 1783.3 L1679 1782.8 L1682 1784 L1685 1783.5 L1688 1783.4 L1691 1783.6 L1694 1783.5 L1697 1783.7 L1700 1783.7 L1703 1783.7 L1706 1784.5 L1709 1784.8 L1712 1784.2 L1715 1783.6 L1718 1783.7 L1721 1784 L1724 1784.9 L1727 1785.1 L1730 1783.7 L1733 1783.8 L1736 1785.1 L1739 1784.8 L1742 1784.5 L1745 1784.8 L1748 1784.7 L1751 1784.1 L1754 1785.3 L1757 1784 L1760 1784.5 L1763 1784.1 L1766 1784.1 L1769 1784.4 L1772 1784.4 L1775 1785.6 L1778 1785.1 L1781 1785" fill="none" stroke="#e2321f" stroke-width="5.5" stroke-linejoin="round" stroke-linecap="round"/>
<text x="1554.1" y="1443" font-size="50" font-weight="bold" fill="#1a1a1a" textLength="228.9" lengthAdjust="spacingAndGlyphs">+Pitstop 2</text>
<text transform="translate(1103 1764) rotate(-90)" x="-2.4" y="0" font-size="48.6" font-weight="bold" fill="#111" textLength="376" lengthAdjust="spacingAndGlyphs">Relative Cell Number</text>
<rect x="1103" y="1871" width="25" height="25" fill="#c2291f" stroke="#3a3a3a" stroke-width="2.5"/>
<text x="1138.5" y="1896" font-size="30" font-weight="normal" fill="#3e3e3e" textLength="338.4" lengthAdjust="spacingAndGlyphs">LtxA treated (MCF=40.5)</text>
<line x1="1115" y1="1925" x2="1115" y2="2354.75" stroke="#111" stroke-width="5.5"/>
<line x1="1112.25" y1="2346" x2="1776" y2="2346" stroke="#111" stroke-width="5.5"/>
<path d="M1181.3 2346 V2353.8 M1220.1 2346 V2353.8 M1247.7 2346 V2353.8 M1269 2346 V2353.8 M1286.5 2346 V2353.8 M1301.2 2346 V2353.8 M1314 2346 V2353.8 M1325.3 2346 V2353.8 M1401.7 2346 V2353.8 M1440.5 2346 V2353.8 M1468 2346 V2353.8 M1489.3 2346 V2353.8 M1506.8 2346 V2353.8 M1521.5 2346 V2353.8 M1534.3 2346 V2353.8 M1545.6 2346 V2353.8 M1335.3 2346 V2353.8 M1622 2346 V2353.8 M1660.8 2346 V2353.8 M1688.3 2346 V2353.8 M1709.7 2346 V2353.8 M1727.1 2346 V2353.8 M1741.9 2346 V2353.8 M1754.6 2346 V2353.8 M1765.9 2346 V2353.8 M1555.7 2346 V2353.8 M1776 2346 V2353.8" stroke="#111" stroke-width="4" fill="none"/>
<text x="1094.4" y="2393" font-size="32.9" font-weight="bold" fill="#222" textLength="38.5" lengthAdjust="spacingAndGlyphs">10</text>
<text x="1135.5" y="2375" font-size="14.3" font-weight="normal" fill="#444" textLength="7" lengthAdjust="spacingAndGlyphs">0</text>
<text x="1314.8" y="2393" font-size="32.9" font-weight="bold" fill="#222" textLength="38.5" lengthAdjust="spacingAndGlyphs">10</text>
<text x="1355.3" y="2375" font-size="14.3" font-weight="normal" fill="#444" textLength="7.7" lengthAdjust="spacingAndGlyphs">1</text>
<text x="1535.1" y="2393" font-size="32.9" font-weight="bold" fill="#222" textLength="38.5" lengthAdjust="spacingAndGlyphs">10</text>
<text x="1576" y="2375" font-size="14.3" font-weight="normal" fill="#444" textLength="7.3" lengthAdjust="spacingAndGlyphs">2</text>
<text x="1755.4" y="2393" font-size="32.9" font-weight="bold" fill="#222" textLength="38.5" lengthAdjust="spacingAndGlyphs">10</text>
<text x="1796.5" y="2375" font-size="14.3" font-weight="normal" fill="#444" textLength="7" lengthAdjust="spacingAndGlyphs">3</text>
<text x="1279.5" y="2419" font-size="38.6" font-weight="bold" fill="#111" textLength="328.9" lengthAdjust="spacingAndGlyphs">LtxA fluorescence</text>
<path d="M1117 2338 L1119 2336.2 L1122 2332.3 L1125 2318.4 L1127.5 2328.1 L1130 2334 L1133 2328.2 L1136 2319.5 L1140 2329.1 L1142.5 2335.2 L1145 2340 L1149 2302.6 L1152 2315.3 L1156 2329.3 L1158.5 2316.2 L1161 2306.1 L1164 2300.8 L1167 2299.3 L1171 2296.3 L1175 2291.4 L1177.5 2264.9 L1180 2247.4 L1184 2298.1 L1188 2270.9 L1191 2247.7 L1194 2254.2 L1197 2298.4 L1201 2226 L1203.5 2222.8 L1206 2207.2 L1209 2217.6 L1212 2213.6 L1216 2220.1 L1218 2186.7 L1222 2169.1 L1226 2179.7 L1229.5 2168.7 L1233 2169.6 L1237 2095.9 L1240 2139.4 L1243 2189.8 L1245.5 2162 L1248 2151 L1251 2129.3 L1254 2107 L1258 2127.9 L1261 2161.6 L1265 2125.3 L1268 2139.4 L1271 2148.9 L1274 2132.5 L1277 2139.1 L1281 2117.9 L1284 2088.9 L1288 2106.5 L1291 2112 L1294 2136.2 L1296 2174 L1300 2147.3 L1302.5 2143.9 L1305 2135.1 L1309 2159.8 L1313 2177.7 L1316 2174.9 L1319 2165.4 L1321.5 2194.5 L1324 2226.9 L1326.5 2228.6 L1329 2227.3 L1333 2233.8 L1337 2256.5 L1341 2268.7 L1345 2287.5 L1347.5 2294.5 L1350 2306.3 L1354 2310.8 L1358 2310.5 L1360.5 2315.2 L1363 2314.3 L1366 2324.1 L1369 2325 L1372 2328.9 L1375 2333.2 L1377.5 2337.8 L1380 2337.6 L1383 2339.6 L1386 2338.9 L1389 2342.4 L1392.1 2340.6 L1395.2 2341.8 L1398.3 2342.4 L1401.4 2342.7 L1404.6 2342.6 L1407.7 2343.3 L1410.8 2342.4 L1413.9 2344.6 L1417 2344" fill="none" stroke="#e2321f" stroke-width="5" stroke-linejoin="round" stroke-linecap="round"/>
<text x="1484.1" y="2003" font-size="48.6" font-weight="bold" fill="#1a1a1a" textLength="294.9" lengthAdjust="spacingAndGlyphs">+Dynole 34-2</text>
<text transform="translate(1102 2322) rotate(-90)" x="-2.5" y="0" font-size="47.1" font-weight="bold" fill="#111" textLength="378" lengthAdjust="spacingAndGlyphs">Relative Cell Number</text>
<rect x="1097" y="2432" width="25" height="23" fill="#c2291f" stroke="#3a3a3a" stroke-width="2.5"/>
<text x="1126.5" y="2455" font-size="28.6" font-weight="normal" fill="#3e3e3e" textLength="323.4" lengthAdjust="spacingAndGlyphs">LtxA treated (MCF=6.5)</text>
<line x1="1120" y1="2509" x2="1120" y2="2943.75" stroke="#111" stroke-width="5.5"/>
<line x1="1117.25" y1="2935" x2="1781" y2="2935" stroke="#111" stroke-width="5.5"/>
<path d="M1186.3 2935 V2942.8 M1225.1 2935 V2942.8 M1252.7 2935 V2942.8 M1274 2935 V2942.8 M1291.5 2935 V2942.8 M1306.2 2935 V2942.8 M1319 2935 V2942.8 M1330.3 2935 V2942.8 M1406.7 2935 V2942.8 M1445.5 2935 V2942.8 M1473 2935 V2942.8 M1494.3 2935 V2942.8 M1511.8 2935 V2942.8 M1526.5 2935 V2942.8 M1539.3 2935 V2942.8 M1550.6 2935 V2942.8 M1340.3 2935 V2942.8 M1627 2935 V2942.8 M1665.8 2935 V2942.8 M1693.3 2935 V2942.8 M1714.7 2935 V2942.8 M1732.1 2935 V2942.8 M1746.9 2935 V2942.8 M1759.6 2935 V2942.8 M1770.9 2935 V2942.8 M1560.7 2935 V2942.8 M1781 2935 V2942.8" stroke="#111" stroke-width="4" fill="none"/>
<text x="1099.4" y="2982" font-size="32.9" font-weight="bold" fill="#222" textLength="38.5" lengthAdjust="spacingAndGlyphs">10</text>
<text x="1140.5" y="2964" font-size="14.3" font-weight="normal" fill="#444" textLength="7" lengthAdjust="spacingAndGlyphs">0</text>
<text x="1319.8" y="2982" font-size="32.9" font-weight="bold" fill="#222" textLength="38.5" lengthAdjust="spacingAndGlyphs">10</text>
<text x="1360.3" y="2964" font-size="14.3" font-weight="normal" fill="#444" textLength="7.7" lengthAdjust="spacingAndGlyphs">1</text>
<text x="1540.1" y="2982" font-size="32.9" font-weight="bold" fill="#222" textLength="38.5" lengthAdjust="spacingAndGlyphs">10</text>
<text x="1581" y="2964" font-size="14.3" font-weight="normal" fill="#444" textLength="7.3" lengthAdjust="spacingAndGlyphs">2</text>
<text x="1760.4" y="2982" font-size="32.9" font-weight="bold" fill="#222" textLength="38.5" lengthAdjust="spacingAndGlyphs">10</text>
<text x="1801.5" y="2964" font-size="14.3" font-weight="normal" fill="#444" textLength="7" lengthAdjust="spacingAndGlyphs">3</text>
<text x="1288.6" y="3008" font-size="38.6" font-weight="bold" fill="#111" textLength="322.8" lengthAdjust="spacingAndGlyphs">LtxA fluorescence</text>
<line x1="1122" y1="2925.5" x2="1650" y2="2925.5" stroke="#e2321f" stroke-width="3"/>
<path d="M1288 2924 L1291 2925 L1294 2924.4 L1297 2924.3 L1300 2924.5 L1302.9 2924.7 L1305.8 2924.7 L1308.8 2923.3 L1311.7 2922.5 L1314.6 2922.4 L1317.3 2914.3 L1320 2908.4 L1323.7 2908.4 L1327.4 2905.5 L1331.1 2894.3 L1334.7 2879.7 L1338.3 2887.6 L1342 2891.9 L1345.6 2836.5 L1348.7 2833.8 L1351.7 2833.1 L1354.8 2835 L1358.4 2799 L1361.2 2776.3 L1364 2751.3 L1367.6 2747.1 L1371.2 2710.2 L1374 2688.6 L1376.7 2673.6 L1380.3 2624.2 L1383 2611.4 L1385.8 2600.7 L1389.5 2557.2 L1393 2586.1 L1396.8 2586.8 L1399.5 2566.8 L1402.2 2541.3 L1405 2559.6 L1407.7 2572.6 L1411.4 2502.7 L1414.2 2523.3 L1416.9 2535.7 L1419.6 2574.4 L1422.3 2609.4 L1425 2614.4 L1427.8 2620.6 L1431.4 2638 L1435.1 2648.8 L1437.8 2670.5 L1440.6 2690.8 L1444.2 2724.9 L1447 2732.3 L1449.7 2731.1 L1453.4 2765.4 L1456.1 2791.1 L1458.8 2816.5 L1462.5 2836.2 L1465.2 2841.8 L1468 2845.8 L1471.6 2865.8 L1475.3 2867.2 L1479 2874.5 L1481.7 2879.2 L1484.4 2881.5 L1488 2871.6 L1490.8 2882 L1493.5 2895.5 L1496.2 2897.2 L1499 2897.4 L1501.8 2900.2 L1504.5 2900.1 L1507.2 2904.2 L1510 2910 L1513 2914.2 L1516 2916.8 L1519 2920.3 L1522.7 2920.3 L1526.4 2919.4 L1529.2 2919.1 L1531.9 2920.1 L1534.7 2922 L1537.4 2923.3 L1540.4 2922.3 L1543.5 2923.6 L1546.5 2923.9 L1549.5 2923 L1552.6 2924.5 L1555.6 2924.5 L1558.6 2923.8 L1561.5 2923.9 L1564.5 2924.1 L1567.4 2925 L1570.4 2924 L1573.4 2924.9 L1576.3 2925.4 L1579.3 2924.9 L1582.2 2925.2 L1585.2 2924.1 L1588.2 2925.7 L1591.1 2925.7 L1594.1 2925.6 L1597 2924.5 L1600 2925.2 L1603 2925.5 L1606.1 2924.4 L1609.2 2924.5 L1612.2 2925.9 L1615.2 2925.4 L1618.3 2926.1 L1621.3 2925.2 L1624.4 2926.2 L1627.5 2925.8 L1630.5 2924.9 L1633.5 2925.1 L1636.6 2926.4 L1639.7 2924.9 L1642.7 2926.5 L1645.8 2926 L1648.8 2926.6 L1651.8 2925.3 L1654.9 2925.1 L1658 2926.7 L1661 2926" fill="none" stroke="#e2321f" stroke-width="5.5" stroke-linejoin="round" stroke-linecap="round"/>
<text x="1491.1" y="2590" font-size="50" font-weight="bold" fill="#1a1a1a" textLength="292.9" lengthAdjust="spacingAndGlyphs">+Dynole 31-2</text>
<text transform="translate(1102 2911) rotate(-90)" x="-2.5" y="0" font-size="47.1" font-weight="bold" fill="#111" textLength="381" lengthAdjust="spacingAndGlyphs">Relative Cell Number</text>
<rect x="1109" y="3029" width="28" height="25" fill="#c2291f" stroke="#3a3a3a" stroke-width="2.5"/>
<text x="1147.5" y="3054" font-size="30" font-weight="normal" fill="#3e3e3e" textLength="341.4" lengthAdjust="spacingAndGlyphs">LtxA treated (MCF=37.5)</text>
</g>
</svg>
</div>
</body></html>
